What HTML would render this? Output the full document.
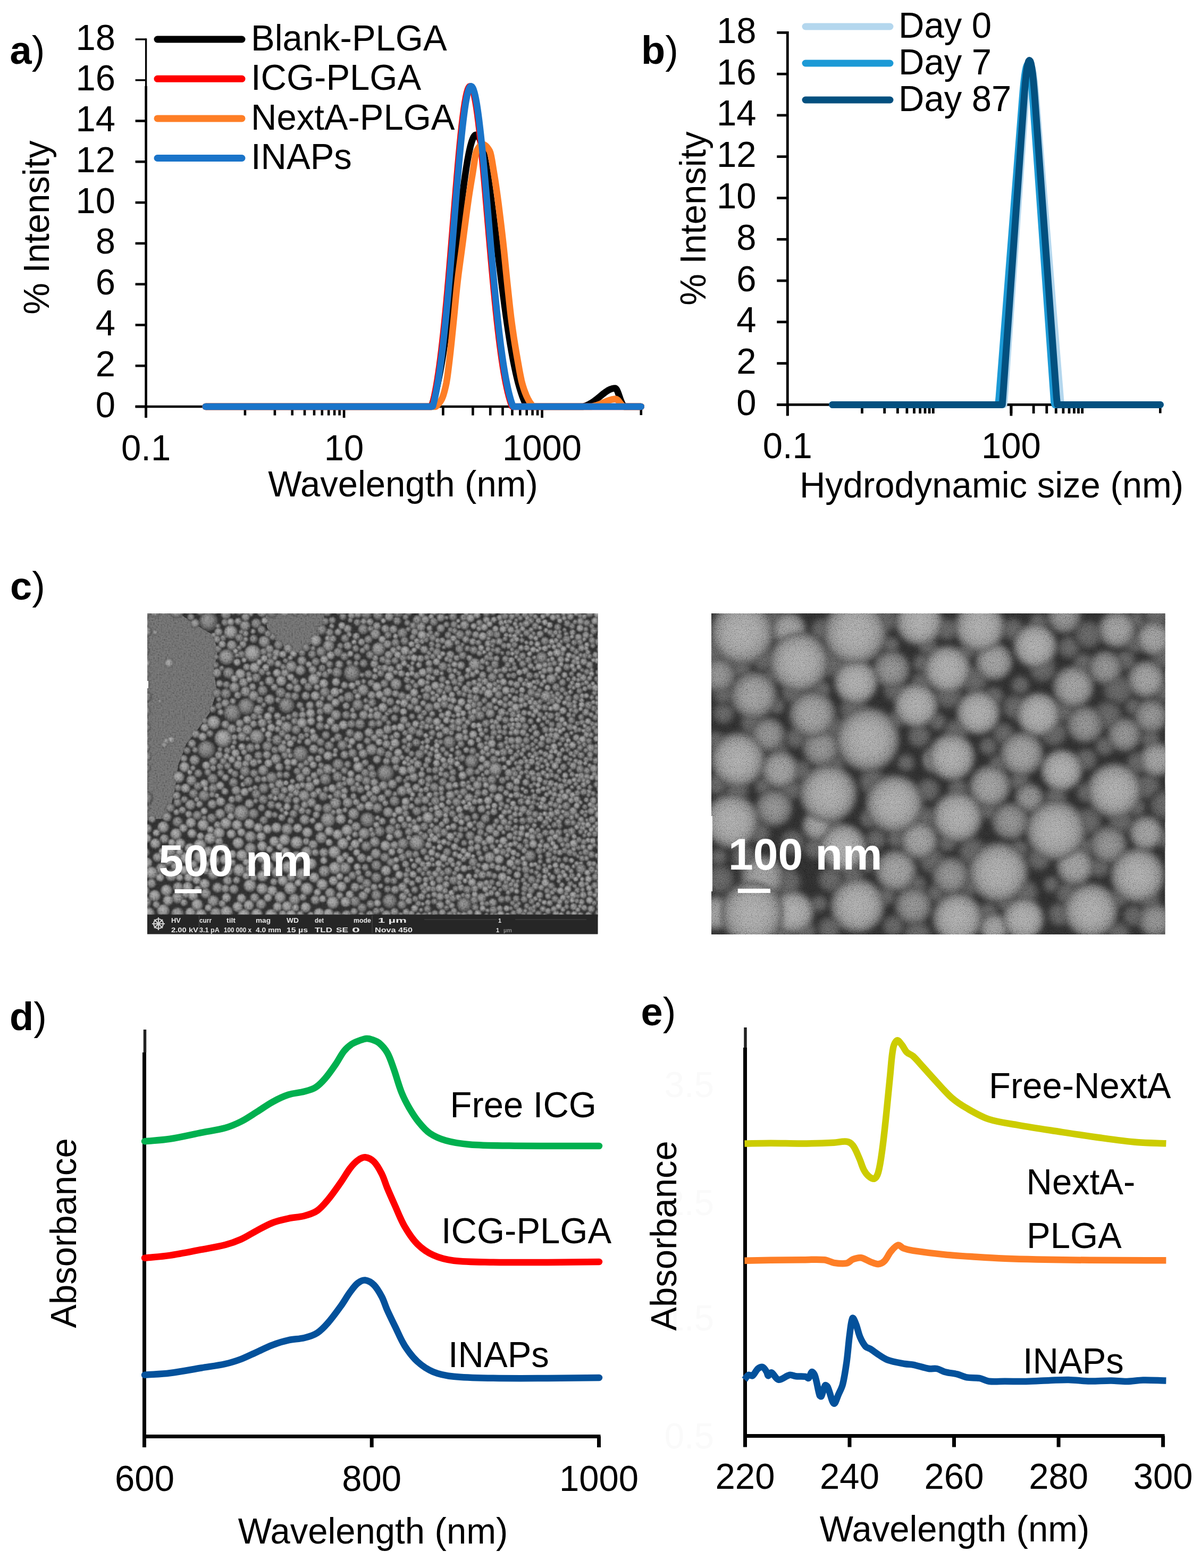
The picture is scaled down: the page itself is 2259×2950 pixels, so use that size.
<!DOCTYPE html>
<html><head><meta charset="utf-8"><title>Figure</title>
<style>html,body{margin:0;padding:0;background:#fff;overflow:hidden;}svg{display:block;}</style></head>
<body>
<svg width="2259" height="2950" viewBox="0 0 2259 2950" font-family="'Liberation Sans', Arial, sans-serif">
<rect width="2259" height="2950" fill="#fff"/>
<defs>
<radialGradient id="pA" cx="0.5" cy="0.5" r="0.5" fx="0.4" fy="0.35"><stop offset="0" stop-color="#9a9a9a"/><stop offset="0.6" stop-color="#7e7e7e"/><stop offset="1" stop-color="#484848"/></radialGradient>
<radialGradient id="pB" cx="0.5" cy="0.5" r="0.5" fx="0.4" fy="0.35"><stop offset="0" stop-color="#8c8c8c"/><stop offset="0.6" stop-color="#727272"/><stop offset="1" stop-color="#424242"/></radialGradient>
<radialGradient id="pC" cx="0.5" cy="0.5" r="0.5" fx="0.4" fy="0.35"><stop offset="0" stop-color="#aaaaaa"/><stop offset="0.6" stop-color="#8a8a8a"/><stop offset="1" stop-color="#4e4e4e"/></radialGradient>
<radialGradient id="spR" cx="0.5" cy="0.5" r="0.5"><stop offset="0" stop-color="#9e9e9e"/><stop offset="0.5" stop-color="#939393"/><stop offset="0.8" stop-color="#767676"/><stop offset="1" stop-color="#444"/></radialGradient><radialGradient id="spM" cx="0.5" cy="0.5" r="0.5"><stop offset="0" stop-color="#8e8e8e"/><stop offset="0.5" stop-color="#848484"/><stop offset="0.8" stop-color="#6a6a6a"/><stop offset="1" stop-color="#404040"/></radialGradient><radialGradient id="spB" cx="0.5" cy="0.5" r="0.5"><stop offset="0" stop-color="#5c5c5c"/><stop offset="0.6" stop-color="#525252"/><stop offset="1" stop-color="#2a2a2a"/></radialGradient><radialGradient id="spD" cx="0.5" cy="0.5" r="0.5"><stop offset="0" stop-color="#808080"/><stop offset="0.5" stop-color="#767676"/><stop offset="0.8" stop-color="#606060"/><stop offset="1" stop-color="#3a3a3a"/></radialGradient>
<filter id="soft" x="-10%" y="-10%" width="120%" height="120%"><feGaussianBlur stdDeviation="5"/></filter>
<filter id="soft1" x="0" y="0" width="100%" height="100%"><feGaussianBlur stdDeviation="0.8"/></filter>
<filter id="grain" x="0" y="0" width="100%" height="100%"><feTurbulence type="fractalNoise" baseFrequency="0.35" numOctaves="1" seed="3"/><feColorMatrix type="matrix" values="2 0 0 0 -0.5  2 0 0 0 -0.5  2 0 0 0 -0.5  0 0 0 0 1"/></filter>
<filter id="grain2" x="0" y="0" width="100%" height="100%"><feTurbulence type="fractalNoise" baseFrequency="0.9" numOctaves="2" seed="5"/><feColorMatrix type="matrix" values="2 0 0 0 -0.5  2 0 0 0 -0.5  2 0 0 0 -0.5  0 0 0 0 1"/></filter>
</defs>
<line x1="274.6" y1="72.3" x2="274.6" y2="162.0" stroke="#000" stroke-width="3.4" stroke-linecap="butt"/>
<line x1="274.6" y1="162.0" x2="274.6" y2="785.0" stroke="#000" stroke-width="4.6" stroke-linecap="butt"/>
<line x1="254.6" y1="765.0" x2="274.6" y2="765.0" stroke="#000" stroke-width="4.6" stroke-linecap="butt"/>
<text transform="translate(217.0,784.5) scale(1,1.028)" font-size="67" text-anchor="end">0</text>
<line x1="254.6" y1="688.2" x2="274.6" y2="688.2" stroke="#000" stroke-width="4.6" stroke-linecap="butt"/>
<text transform="translate(217.0,707.7) scale(1,1.028)" font-size="67" text-anchor="end">2</text>
<line x1="254.6" y1="611.4" x2="274.6" y2="611.4" stroke="#000" stroke-width="4.6" stroke-linecap="butt"/>
<text transform="translate(217.0,630.9) scale(1,1.028)" font-size="67" text-anchor="end">4</text>
<line x1="254.6" y1="534.7" x2="274.6" y2="534.7" stroke="#000" stroke-width="4.6" stroke-linecap="butt"/>
<text transform="translate(217.0,554.2) scale(1,1.028)" font-size="67" text-anchor="end">6</text>
<line x1="254.6" y1="457.9" x2="274.6" y2="457.9" stroke="#000" stroke-width="4.6" stroke-linecap="butt"/>
<text transform="translate(217.0,477.4) scale(1,1.028)" font-size="67" text-anchor="end">8</text>
<line x1="254.6" y1="381.1" x2="274.6" y2="381.1" stroke="#000" stroke-width="4.6" stroke-linecap="butt"/>
<text transform="translate(217.0,400.6) scale(1,1.028)" font-size="67" text-anchor="end">10</text>
<line x1="254.6" y1="304.3" x2="274.6" y2="304.3" stroke="#000" stroke-width="4.6" stroke-linecap="butt"/>
<text transform="translate(217.0,323.8) scale(1,1.028)" font-size="67" text-anchor="end">12</text>
<line x1="254.6" y1="227.5" x2="274.6" y2="227.5" stroke="#000" stroke-width="4.6" stroke-linecap="butt"/>
<text transform="translate(217.0,247.0) scale(1,1.028)" font-size="67" text-anchor="end">14</text>
<line x1="254.6" y1="150.8" x2="274.6" y2="150.8" stroke="#000" stroke-width="3.4" stroke-linecap="butt"/>
<text transform="translate(217.0,170.3) scale(1,1.028)" font-size="67" text-anchor="end">16</text>
<line x1="254.6" y1="74.0" x2="274.6" y2="74.0" stroke="#000" stroke-width="3.4" stroke-linecap="butt"/>
<text transform="translate(217.0,93.5) scale(1,1.028)" font-size="67" text-anchor="end">18</text>
<line x1="254.6" y1="765.0" x2="1205.8" y2="765.0" stroke="#000" stroke-width="4.6" stroke-linecap="butt"/>
<line x1="274.6" y1="765.0" x2="274.6" y2="786.0" stroke="#000" stroke-width="4.6" stroke-linecap="butt"/>
<line x1="647.1" y1="765.0" x2="647.1" y2="786.0" stroke="#000" stroke-width="4.6" stroke-linecap="butt"/>
<line x1="1019.6" y1="765.0" x2="1019.6" y2="786.0" stroke="#000" stroke-width="4.6" stroke-linecap="butt"/>
<line x1="460.9" y1="765.0" x2="460.9" y2="781.5" stroke="#000" stroke-width="4.6" stroke-linecap="butt"/>
<line x1="516.9" y1="765.0" x2="516.9" y2="781.5" stroke="#000" stroke-width="4.6" stroke-linecap="butt"/>
<line x1="549.7" y1="765.0" x2="549.7" y2="781.5" stroke="#000" stroke-width="4.6" stroke-linecap="butt"/>
<line x1="573.0" y1="765.0" x2="573.0" y2="781.5" stroke="#000" stroke-width="4.6" stroke-linecap="butt"/>
<line x1="591.0" y1="765.0" x2="591.0" y2="781.5" stroke="#000" stroke-width="4.6" stroke-linecap="butt"/>
<line x1="605.8" y1="765.0" x2="605.8" y2="781.5" stroke="#000" stroke-width="4.6" stroke-linecap="butt"/>
<line x1="618.2" y1="765.0" x2="618.2" y2="781.5" stroke="#000" stroke-width="4.6" stroke-linecap="butt"/>
<line x1="629.1" y1="765.0" x2="629.1" y2="781.5" stroke="#000" stroke-width="4.6" stroke-linecap="butt"/>
<line x1="638.6" y1="765.0" x2="638.6" y2="781.5" stroke="#000" stroke-width="4.6" stroke-linecap="butt"/>
<line x1="833.4" y1="765.0" x2="833.4" y2="781.5" stroke="#000" stroke-width="4.6" stroke-linecap="butt"/>
<line x1="889.4" y1="765.0" x2="889.4" y2="781.5" stroke="#000" stroke-width="4.6" stroke-linecap="butt"/>
<line x1="922.2" y1="765.0" x2="922.2" y2="781.5" stroke="#000" stroke-width="4.6" stroke-linecap="butt"/>
<line x1="945.5" y1="765.0" x2="945.5" y2="781.5" stroke="#000" stroke-width="4.6" stroke-linecap="butt"/>
<line x1="963.5" y1="765.0" x2="963.5" y2="781.5" stroke="#000" stroke-width="4.6" stroke-linecap="butt"/>
<line x1="978.3" y1="765.0" x2="978.3" y2="781.5" stroke="#000" stroke-width="4.6" stroke-linecap="butt"/>
<line x1="990.7" y1="765.0" x2="990.7" y2="781.5" stroke="#000" stroke-width="4.6" stroke-linecap="butt"/>
<line x1="1001.6" y1="765.0" x2="1001.6" y2="781.5" stroke="#000" stroke-width="4.6" stroke-linecap="butt"/>
<line x1="1011.1" y1="765.0" x2="1011.1" y2="781.5" stroke="#000" stroke-width="4.6" stroke-linecap="butt"/>
<line x1="1205.8" y1="765.0" x2="1205.8" y2="781.0" stroke="#000" stroke-width="4.6" stroke-linecap="butt"/>
<text transform="translate(274.6,866.0) scale(1,1.028)" font-size="67" text-anchor="middle">0.1</text>
<text transform="translate(647.1,866.0) scale(1,1.028)" font-size="67" text-anchor="middle">10</text>
<text transform="translate(1019.6,866.0) scale(1,1.028)" font-size="67" text-anchor="middle">1000</text>
<text transform="translate(758.0,934.0) scale(1,1.028)" font-size="67" text-anchor="middle">Wavelength (nm)</text>
<text transform="translate(91.6,428) rotate(-90) scale(1,1.028)" font-size="67" text-anchor="middle">% Intensity</text>
<path d="M386.7,765.0 L811.2,765.0 L812.7,761.4 L814.2,756.8 L815.7,751.8 L817.2,746.5 L818.7,740.9 L820.2,734.9 L821.7,728.6 L823.2,721.9 L824.7,714.8 L826.2,707.3 L827.7,699.5 L829.2,691.2 L830.7,682.6 L832.2,673.6 L833.7,664.2 L835.2,654.4 L836.7,644.3 L838.2,633.8 L839.7,622.9 L841.2,611.7 L842.7,600.1 L844.2,588.2 L845.7,576.1 L847.2,563.7 L848.7,551.0 L850.2,538.2 L851.7,525.2 L853.2,512.0 L854.7,498.7 L856.2,485.3 L857.7,471.9 L859.2,458.5 L860.7,445.2 L862.2,431.9 L863.7,418.8 L865.2,405.9 L866.7,393.2 L868.2,380.7 L869.7,368.7 L871.2,356.9 L872.7,345.6 L874.2,334.8 L875.7,324.5 L877.2,314.7 L878.7,305.6 L880.2,297.1 L881.7,289.2 L883.2,282.1 L884.7,275.7 L886.2,270.1 L887.7,265.2 L889.2,261.2 L890.7,258.0 L892.2,255.7 L893.7,254.2 L895.2,253.7 L896.7,253.9 L898.2,254.9 L899.7,256.7 L901.2,259.2 L902.7,262.4 L904.2,266.4 L905.7,271.1 L907.2,276.5 L908.7,282.6 L910.2,289.2 L911.7,296.6 L913.2,304.4 L914.7,312.9 L916.2,321.9 L917.7,331.3 L919.2,341.2 L920.7,351.6 L922.2,362.3 L923.7,373.3 L925.2,384.7 L926.7,396.3 L928.2,408.1 L929.7,420.1 L931.2,432.2 L932.7,444.5 L934.2,456.8 L935.7,469.1 L937.2,481.5 L938.7,493.8 L940.2,506.0 L941.7,518.1 L943.2,530.1 L944.7,541.9 L946.2,553.6 L947.7,565.0 L949.2,576.2 L950.7,587.2 L952.2,597.9 L953.7,608.3 L955.2,618.4 L956.7,628.2 L958.2,637.7 L959.7,646.9 L961.2,655.7 L962.7,664.2 L964.2,672.4 L965.7,680.2 L967.2,687.7 L968.7,694.8 L970.2,701.6 L971.7,708.1 L973.2,714.3 L974.7,720.1 L976.2,725.6 L977.7,730.8 L979.2,735.7 L980.7,740.3 L982.2,744.7 L983.7,748.7 L985.2,752.6 L986.7,756.1 L988.2,759.5 L989.7,762.6 L991.2,765.0 L1096.2,765.0 L1097.7,764.8 L1099.2,764.3 L1100.7,763.8 L1102.2,763.2 L1103.7,762.6 L1105.2,761.9 L1106.7,761.2 L1108.2,760.4 L1109.7,759.6 L1111.2,758.8 L1112.7,757.9 L1114.2,756.9 L1115.7,755.9 L1117.2,754.9 L1118.7,753.8 L1120.2,752.6 L1121.7,751.5 L1123.2,750.3 L1124.7,749.1 L1126.2,747.9 L1127.7,746.6 L1129.2,745.4 L1130.7,744.1 L1132.2,742.9 L1133.7,741.7 L1135.2,740.5 L1136.7,739.3 L1138.2,738.2 L1139.7,737.1 L1141.2,736.1 L1142.7,735.1 L1144.2,734.2 L1145.7,733.4 L1147.2,732.7 L1148.7,732.1 L1150.2,731.6 L1151.7,731.1 L1153.2,730.8 L1154.7,730.6 L1156.2,730.5 L1157.7,730.6 L1159.2,731.9 L1160.7,734.4 L1162.2,737.9 L1163.7,742.0 L1165.2,746.3 L1166.7,750.6 L1168.2,754.6 L1169.7,758.2 L1171.2,761.1 L1172.7,763.5 L1174.2,765.0 L1205.8,765.0" fill="none" stroke="#000000" stroke-width="12.5" stroke-linecap="round" stroke-linejoin="round"/>
<path d="M386.7,765.0 L811.2,765.0 L812.7,763.4 L814.2,757.5 L815.7,751.2 L817.2,744.3 L818.7,736.8 L820.2,728.8 L821.7,720.3 L823.2,711.1 L824.7,701.3 L826.2,690.9 L827.7,679.8 L829.2,668.1 L830.7,655.8 L832.2,642.8 L833.7,629.2 L835.2,615.0 L836.7,600.2 L838.2,584.8 L839.7,568.8 L841.2,552.4 L842.7,535.4 L844.2,518.1 L845.7,500.3 L847.2,482.3 L848.7,464.0 L850.2,445.5 L851.7,427.0 L853.2,408.3 L854.7,389.8 L856.2,371.4 L857.7,353.2 L859.2,335.3 L860.7,317.8 L862.2,300.8 L863.7,284.5 L865.2,268.8 L866.7,253.9 L868.2,239.8 L869.7,226.7 L871.2,214.7 L872.7,203.7 L874.2,193.9 L875.7,185.3 L877.2,178.0 L878.7,172.1 L880.2,167.5 L881.7,164.4 L883.2,162.6 L884.7,162.3 L886.2,163.4 L887.7,165.7 L889.2,169.4 L890.7,174.3 L892.2,180.5 L893.7,187.9 L895.2,196.4 L896.7,206.1 L898.2,216.8 L899.7,228.5 L901.2,241.1 L902.7,254.6 L904.2,268.9 L905.7,283.8 L907.2,299.4 L908.7,315.5 L910.2,332.1 L911.7,349.0 L913.2,366.2 L914.7,383.7 L916.2,401.2 L917.7,418.8 L919.2,436.4 L920.7,453.9 L922.2,471.3 L923.7,488.4 L925.2,505.3 L926.7,521.8 L928.2,537.9 L929.7,553.7 L931.2,568.9 L932.7,583.7 L934.2,598.0 L935.7,611.7 L937.2,624.9 L938.7,637.4 L940.2,649.4 L941.7,660.8 L943.2,671.7 L944.7,681.9 L946.2,691.6 L947.7,700.7 L949.2,709.2 L950.7,717.2 L952.2,724.6 L953.7,731.5 L955.2,738.0 L956.7,743.9 L958.2,749.4 L959.7,754.5 L961.2,759.2 L962.7,763.5 L964.2,765.0 L1205.8,765.0" fill="none" stroke="#FF0000" stroke-width="12.5" stroke-linecap="round" stroke-linejoin="round"/>
<path d="M386.7,765.0 L818.7,765.0 L820.2,764.7 L821.7,763.0 L823.2,761.3 L824.7,759.8 L826.2,758.1 L827.7,756.2 L829.2,754.0 L830.7,751.3 L832.2,748.0 L833.7,743.8 L835.2,739.0 L836.7,733.4 L838.2,727.1 L839.7,720.1 L841.2,710.8 L842.7,699.6 L844.2,687.4 L845.7,675.0 L847.2,661.9 L848.7,647.9 L850.2,633.3 L851.7,618.5 L853.2,603.8 L854.7,588.6 L856.2,572.9 L857.7,557.3 L859.2,542.5 L860.7,529.0 L862.2,516.6 L863.7,505.0 L865.2,493.8 L866.7,482.9 L868.2,471.9 L869.7,460.7 L871.2,449.1 L872.7,437.5 L874.2,426.0 L875.7,414.6 L877.2,403.4 L878.7,392.2 L880.2,381.3 L881.7,370.9 L883.2,361.1 L884.7,351.7 L886.2,342.6 L887.7,333.6 L889.2,324.7 L890.7,314.8 L892.2,304.6 L893.7,295.1 L895.2,287.7 L896.7,283.5 L898.2,280.9 L899.7,278.5 L901.2,276.4 L902.7,274.6 L904.2,273.2 L905.7,272.3 L907.2,271.8 L908.7,271.7 L910.2,272.1 L911.7,272.9 L913.2,274.0 L914.7,275.3 L916.2,277.0 L917.7,279.0 L919.2,281.1 L920.7,283.5 L922.2,287.1 L923.7,293.2 L925.2,301.1 L926.7,310.2 L928.2,319.7 L929.7,328.7 L931.2,338.0 L932.7,347.9 L934.2,358.4 L935.7,369.2 L937.2,380.4 L938.7,392.2 L940.2,404.4 L941.7,416.8 L943.2,429.3 L944.7,441.9 L946.2,455.1 L947.7,468.9 L949.2,483.5 L950.7,498.6 L952.2,513.7 L953.7,528.3 L955.2,542.5 L956.7,556.7 L958.2,570.7 L959.7,584.2 L961.2,596.9 L962.7,608.6 L964.2,619.4 L965.7,629.7 L967.2,639.6 L968.7,649.0 L970.2,658.1 L971.7,666.9 L973.2,675.4 L974.7,683.9 L976.2,692.3 L977.7,700.5 L979.2,708.3 L980.7,715.4 L982.2,721.5 L983.7,726.6 L985.2,731.3 L986.7,735.7 L988.2,739.7 L989.7,743.4 L991.2,746.8 L992.7,749.9 L994.2,752.7 L995.7,755.3 L997.2,757.6 L998.7,759.7 L1000.2,761.8 L1001.7,763.9 L1003.2,765.0 L1111.2,765.0 L1112.7,764.9 L1114.2,764.6 L1115.7,764.3 L1117.2,763.9 L1118.7,763.5 L1120.2,763.1 L1121.7,762.7 L1123.2,762.2 L1124.7,761.7 L1126.2,761.2 L1127.7,760.6 L1129.2,760.0 L1130.7,759.4 L1132.2,758.7 L1133.7,758.1 L1135.2,757.4 L1136.7,756.8 L1138.2,756.1 L1139.7,755.5 L1141.2,754.8 L1142.7,754.2 L1144.2,753.6 L1145.7,753.1 L1147.2,752.6 L1148.7,752.2 L1150.2,751.8 L1151.7,751.4 L1153.2,751.2 L1154.7,751.0 L1156.2,750.8 L1157.7,750.8 L1159.2,751.0 L1160.7,751.8 L1162.2,753.0 L1163.7,754.7 L1165.2,756.6 L1166.7,758.5 L1168.2,760.4 L1169.7,762.1 L1171.2,763.6 L1172.7,764.8 L1174.2,765.0 L1205.8,765.0" fill="none" stroke="#FE7E26" stroke-width="12.5" stroke-linecap="round" stroke-linejoin="round"/>
<path d="M386.7,765.0 L812.7,765.0 L814.2,764.1 L815.7,758.3 L817.2,752.0 L818.7,745.2 L820.2,737.9 L821.7,729.9 L823.2,721.4 L824.7,712.3 L826.2,702.6 L827.7,692.3 L829.2,681.3 L830.7,669.7 L832.2,657.5 L833.7,644.6 L835.2,631.1 L836.7,616.9 L838.2,602.2 L839.7,586.8 L841.2,571.0 L842.7,554.6 L844.2,537.7 L845.7,520.4 L847.2,502.7 L848.7,484.7 L850.2,466.5 L851.7,448.0 L853.2,429.4 L854.7,410.8 L856.2,392.3 L857.7,373.8 L859.2,355.6 L860.7,337.6 L862.2,320.1 L863.7,303.1 L865.2,286.6 L866.7,270.8 L868.2,255.8 L869.7,241.6 L871.2,228.4 L872.7,216.2 L874.2,205.1 L875.7,195.1 L877.2,186.4 L878.7,178.9 L880.2,172.8 L881.7,168.1 L883.2,164.7 L884.7,162.8 L886.2,162.3 L887.7,163.2 L889.2,165.3 L890.7,168.8 L892.2,173.6 L893.7,179.6 L895.2,186.8 L896.7,195.2 L898.2,204.7 L899.7,215.3 L901.2,226.9 L902.7,239.4 L904.2,252.8 L905.7,266.9 L907.2,281.8 L908.7,297.3 L910.2,313.3 L911.7,329.8 L913.2,346.7 L914.7,363.9 L916.2,381.3 L917.7,398.9 L919.2,416.5 L920.7,434.1 L922.2,451.6 L923.7,469.0 L925.2,486.2 L926.7,503.0 L928.2,519.6 L929.7,535.8 L931.2,551.6 L932.7,566.9 L934.2,581.8 L935.7,596.1 L937.2,609.9 L938.7,623.1 L940.2,635.8 L941.7,647.9 L943.2,659.4 L944.7,670.3 L946.2,680.6 L947.7,690.3 L949.2,699.5 L950.7,708.1 L952.2,716.1 L953.7,723.6 L955.2,730.6 L956.7,737.1 L958.2,743.2 L959.7,748.7 L961.2,753.9 L962.7,758.6 L964.2,762.9 L965.7,765.0 L1205.8,765.0" fill="none" stroke="#1A74C9" stroke-width="12.5" stroke-linecap="round" stroke-linejoin="round"/>
<line x1="296.0" y1="74.0" x2="455.0" y2="74.0" stroke="#000000" stroke-width="13.0" stroke-linecap="round"/>
<text transform="translate(472.0,94.6) scale(1,1.028)" font-size="67" text-anchor="start">Blank-PLGA</text>
<line x1="296.0" y1="148.3" x2="455.0" y2="148.3" stroke="#FF0000" stroke-width="13.0" stroke-linecap="round"/>
<text transform="translate(472.0,168.9) scale(1,1.028)" font-size="67" text-anchor="start">ICG-PLGA</text>
<line x1="296.0" y1="222.9" x2="455.0" y2="222.9" stroke="#FE7E26" stroke-width="13.0" stroke-linecap="round"/>
<text transform="translate(472.0,243.5) scale(1,1.028)" font-size="67" text-anchor="start">NextA-PLGA</text>
<line x1="296.0" y1="297.5" x2="455.0" y2="297.5" stroke="#1A74C9" stroke-width="13.0" stroke-linecap="round"/>
<text transform="translate(472.0,318.1) scale(1,1.028)" font-size="67" text-anchor="start">INAPs</text>
<text x="18.5" y="119.6" font-size="74"><tspan font-weight="bold">a</tspan>)</text>
<line x1="1481.3" y1="59.0" x2="1481.3" y2="150.0" stroke="#000" stroke-width="4.8" stroke-linecap="butt"/>
<line x1="1481.3" y1="150.0" x2="1481.3" y2="781.4" stroke="#000" stroke-width="4.8" stroke-linecap="butt"/>
<line x1="1461.3" y1="761.4" x2="1481.3" y2="761.4" stroke="#000" stroke-width="4.8" stroke-linecap="butt"/>
<text transform="translate(1422.6,780.9) scale(1,1.028)" font-size="67" text-anchor="end">0</text>
<line x1="1461.3" y1="683.6" x2="1481.3" y2="683.6" stroke="#000" stroke-width="4.8" stroke-linecap="butt"/>
<text transform="translate(1422.6,703.1) scale(1,1.028)" font-size="67" text-anchor="end">2</text>
<line x1="1461.3" y1="605.8" x2="1481.3" y2="605.8" stroke="#000" stroke-width="4.8" stroke-linecap="butt"/>
<text transform="translate(1422.6,625.3) scale(1,1.028)" font-size="67" text-anchor="end">4</text>
<line x1="1461.3" y1="528.1" x2="1481.3" y2="528.1" stroke="#000" stroke-width="4.8" stroke-linecap="butt"/>
<text transform="translate(1422.6,547.6) scale(1,1.028)" font-size="67" text-anchor="end">6</text>
<line x1="1461.3" y1="450.3" x2="1481.3" y2="450.3" stroke="#000" stroke-width="4.8" stroke-linecap="butt"/>
<text transform="translate(1422.6,469.8) scale(1,1.028)" font-size="67" text-anchor="end">8</text>
<line x1="1461.3" y1="372.5" x2="1481.3" y2="372.5" stroke="#000" stroke-width="4.8" stroke-linecap="butt"/>
<text transform="translate(1422.6,392.0) scale(1,1.028)" font-size="67" text-anchor="end">10</text>
<line x1="1461.3" y1="294.7" x2="1481.3" y2="294.7" stroke="#000" stroke-width="4.8" stroke-linecap="butt"/>
<text transform="translate(1422.6,314.2) scale(1,1.028)" font-size="67" text-anchor="end">12</text>
<line x1="1461.3" y1="216.9" x2="1481.3" y2="216.9" stroke="#000" stroke-width="4.8" stroke-linecap="butt"/>
<text transform="translate(1422.6,236.4) scale(1,1.028)" font-size="67" text-anchor="end">14</text>
<line x1="1461.3" y1="139.2" x2="1481.3" y2="139.2" stroke="#000" stroke-width="4.8" stroke-linecap="butt"/>
<text transform="translate(1422.6,158.7) scale(1,1.028)" font-size="67" text-anchor="end">16</text>
<line x1="1461.3" y1="61.4" x2="1481.3" y2="61.4" stroke="#000" stroke-width="4.8" stroke-linecap="butt"/>
<text transform="translate(1422.6,80.9) scale(1,1.028)" font-size="67" text-anchor="end">18</text>
<line x1="1461.3" y1="761.4" x2="2182.3" y2="761.4" stroke="#000" stroke-width="4.8" stroke-linecap="butt"/>
<line x1="1481.3" y1="761.4" x2="1481.3" y2="782.4" stroke="#000" stroke-width="4.8" stroke-linecap="butt"/>
<line x1="1901.9" y1="761.4" x2="1901.9" y2="782.4" stroke="#000" stroke-width="4.8" stroke-linecap="butt"/>
<line x1="1621.5" y1="761.4" x2="1621.5" y2="777.9" stroke="#000" stroke-width="4.8" stroke-linecap="butt"/>
<line x1="1663.7" y1="761.4" x2="1663.7" y2="777.9" stroke="#000" stroke-width="4.8" stroke-linecap="butt"/>
<line x1="1688.4" y1="761.4" x2="1688.4" y2="777.9" stroke="#000" stroke-width="4.8" stroke-linecap="butt"/>
<line x1="1705.9" y1="761.4" x2="1705.9" y2="777.9" stroke="#000" stroke-width="4.8" stroke-linecap="butt"/>
<line x1="1719.5" y1="761.4" x2="1719.5" y2="777.9" stroke="#000" stroke-width="4.8" stroke-linecap="butt"/>
<line x1="1730.6" y1="761.4" x2="1730.6" y2="777.9" stroke="#000" stroke-width="4.8" stroke-linecap="butt"/>
<line x1="1740.0" y1="761.4" x2="1740.0" y2="777.9" stroke="#000" stroke-width="4.8" stroke-linecap="butt"/>
<line x1="1748.1" y1="761.4" x2="1748.1" y2="777.9" stroke="#000" stroke-width="4.8" stroke-linecap="butt"/>
<line x1="1755.3" y1="761.4" x2="1755.3" y2="777.9" stroke="#000" stroke-width="4.8" stroke-linecap="butt"/>
<line x1="1901.9" y1="761.4" x2="1901.9" y2="777.9" stroke="#000" stroke-width="4.8" stroke-linecap="butt"/>
<line x1="1944.1" y1="761.4" x2="1944.1" y2="777.9" stroke="#000" stroke-width="4.8" stroke-linecap="butt"/>
<line x1="1968.8" y1="761.4" x2="1968.8" y2="777.9" stroke="#000" stroke-width="4.8" stroke-linecap="butt"/>
<line x1="1986.3" y1="761.4" x2="1986.3" y2="777.9" stroke="#000" stroke-width="4.8" stroke-linecap="butt"/>
<line x1="1999.9" y1="761.4" x2="1999.9" y2="777.9" stroke="#000" stroke-width="4.8" stroke-linecap="butt"/>
<line x1="2011.0" y1="761.4" x2="2011.0" y2="777.9" stroke="#000" stroke-width="4.8" stroke-linecap="butt"/>
<line x1="2020.4" y1="761.4" x2="2020.4" y2="777.9" stroke="#000" stroke-width="4.8" stroke-linecap="butt"/>
<line x1="2028.5" y1="761.4" x2="2028.5" y2="777.9" stroke="#000" stroke-width="4.8" stroke-linecap="butt"/>
<line x1="2035.7" y1="761.4" x2="2035.7" y2="777.9" stroke="#000" stroke-width="4.8" stroke-linecap="butt"/>
<line x1="2182.3" y1="761.4" x2="2182.3" y2="777.4" stroke="#000" stroke-width="4.6" stroke-linecap="butt"/>
<text transform="translate(1481.3,862.0) scale(1,1.028)" font-size="67" text-anchor="middle">0.1</text>
<text transform="translate(1901.9,862.0) scale(1,1.028)" font-size="67" text-anchor="middle">100</text>
<text transform="translate(1865.0,936.0) scale(1,1.028)" font-size="67" text-anchor="middle">Hydrodynamic size (nm)</text>
<text transform="translate(1326.5,411) rotate(-90) scale(1,1.028)" font-size="67" text-anchor="middle">% Intensity</text>
<path d="M1565.7,761.4 L1888.2,761.4 L1889.7,744.3 L1891.2,723.0 L1892.7,701.7 L1894.2,680.5 L1895.7,659.2 L1897.2,638.0 L1898.7,616.7 L1900.2,595.4 L1901.7,574.2 L1903.2,552.9 L1904.7,531.7 L1906.2,510.4 L1907.7,489.1 L1909.2,467.9 L1910.7,446.6 L1912.2,425.4 L1913.7,404.1 L1915.2,382.8 L1916.7,361.6 L1918.2,340.3 L1919.7,319.1 L1921.2,297.8 L1922.7,276.6 L1924.2,255.3 L1925.7,234.0 L1927.2,212.8 L1928.7,191.5 L1930.2,172.3 L1931.7,156.3 L1933.2,143.4 L1934.7,133.8 L1936.2,127.3 L1937.7,124.0 L1939.2,123.9 L1940.7,126.6 L1942.2,132.0 L1943.7,140.2 L1945.2,151.2 L1946.7,164.9 L1948.2,181.4 L1949.7,199.8 L1951.2,218.2 L1952.7,236.6 L1954.2,255.0 L1955.7,273.3 L1957.2,291.7 L1958.7,310.1 L1960.2,328.5 L1961.7,346.9 L1963.2,365.3 L1964.7,383.7 L1966.2,402.1 L1967.7,420.5 L1969.2,438.9 L1970.7,457.3 L1972.2,475.7 L1973.7,494.1 L1975.2,512.5 L1976.7,530.9 L1978.2,549.3 L1979.7,567.7 L1981.2,586.1 L1982.7,604.5 L1984.2,622.9 L1985.7,641.3 L1987.2,659.7 L1988.7,678.1 L1990.2,696.5 L1991.7,714.9 L1993.2,733.3 L1994.7,751.7 L1996.2,761.4 L2182.3,761.4" fill="none" stroke="#B4D7EE" stroke-width="13.0" stroke-linecap="round" stroke-linejoin="round"/>
<path d="M1565.7,761.4 L1877.7,761.4 L1879.2,745.9 L1880.7,726.7 L1882.2,707.5 L1883.7,688.4 L1885.2,669.2 L1886.7,650.0 L1888.2,630.8 L1889.7,611.6 L1891.2,592.4 L1892.7,573.2 L1894.2,554.0 L1895.7,534.8 L1897.2,515.6 L1898.7,496.4 L1900.2,477.2 L1901.7,458.1 L1903.2,438.9 L1904.7,419.7 L1906.2,400.5 L1907.7,381.3 L1909.2,362.1 L1910.7,342.9 L1912.2,323.7 L1913.7,304.5 L1915.2,285.3 L1916.7,266.1 L1918.2,246.9 L1919.7,227.7 L1921.2,208.6 L1922.7,189.4 L1924.2,171.1 L1925.7,155.7 L1927.2,143.1 L1928.7,133.4 L1930.2,126.6 L1931.7,122.7 L1933.2,121.7 L1934.7,123.7 L1936.2,129.0 L1937.7,137.4 L1939.2,149.1 L1940.7,163.9 L1942.2,181.9 L1943.7,202.8 L1945.2,224.1 L1946.7,245.5 L1948.2,266.8 L1949.7,288.1 L1951.2,309.4 L1952.7,330.8 L1954.2,352.1 L1955.7,373.4 L1957.2,394.7 L1958.7,416.1 L1960.2,437.4 L1961.7,458.7 L1963.2,480.0 L1964.7,501.4 L1966.2,522.7 L1967.7,544.0 L1969.2,565.3 L1970.7,586.7 L1972.2,608.0 L1973.7,629.3 L1975.2,650.6 L1976.7,672.0 L1978.2,693.3 L1979.7,714.6 L1981.2,735.9 L1982.7,757.3 L1984.2,761.4 L2182.3,761.4" fill="none" stroke="#1C9AD6" stroke-width="13.0" stroke-linecap="round" stroke-linejoin="round"/>
<path d="M1565.7,761.4 L1885.2,761.4 L1886.7,741.6 L1888.2,720.4 L1889.7,699.3 L1891.2,678.2 L1892.7,657.0 L1894.2,635.9 L1895.7,614.8 L1897.2,593.7 L1898.7,572.5 L1900.2,551.4 L1901.7,530.3 L1903.2,509.2 L1904.7,488.0 L1906.2,466.9 L1907.7,445.8 L1909.2,424.6 L1910.7,403.5 L1912.2,382.4 L1913.7,361.3 L1915.2,340.1 L1916.7,319.0 L1918.2,297.9 L1919.7,276.8 L1921.2,255.6 L1922.7,234.5 L1924.2,213.4 L1925.7,192.2 L1927.2,171.7 L1928.7,154.1 L1930.2,139.6 L1931.7,128.3 L1933.2,120.2 L1934.7,115.3 L1936.2,113.5 L1937.7,114.9 L1939.2,119.3 L1940.7,126.9 L1942.2,137.6 L1943.7,151.3 L1945.2,168.2 L1946.7,188.1 L1948.2,208.7 L1949.7,229.4 L1951.2,250.1 L1952.7,270.8 L1954.2,291.4 L1955.7,312.1 L1957.2,332.8 L1958.7,353.5 L1960.2,374.2 L1961.7,394.8 L1963.2,415.5 L1964.7,436.2 L1966.2,456.9 L1967.7,477.5 L1969.2,498.2 L1970.7,518.9 L1972.2,539.6 L1973.7,560.3 L1975.2,580.9 L1976.7,601.6 L1978.2,622.3 L1979.7,643.0 L1981.2,663.6 L1982.7,684.3 L1984.2,705.0 L1985.7,725.7 L1987.2,746.4 L1988.7,761.4 L2182.3,761.4" fill="none" stroke="#03507F" stroke-width="13.0" stroke-linecap="round" stroke-linejoin="round"/>
<line x1="1515.0" y1="50.0" x2="1674.0" y2="50.0" stroke="#B4D7EE" stroke-width="13.0" stroke-linecap="round"/>
<text transform="translate(1690.0,70.5) scale(1,1.028)" font-size="67" text-anchor="start">Day 0</text>
<line x1="1515.0" y1="119.0" x2="1674.0" y2="119.0" stroke="#1C9AD6" stroke-width="13.0" stroke-linecap="round"/>
<text transform="translate(1690.0,139.5) scale(1,1.028)" font-size="67" text-anchor="start">Day 7</text>
<line x1="1515.0" y1="188.0" x2="1674.0" y2="188.0" stroke="#03507F" stroke-width="13.0" stroke-linecap="round"/>
<text transform="translate(1690.0,208.5) scale(1,1.028)" font-size="67" text-anchor="start">Day 87</text>
<text x="1206.0" y="119.6" font-size="74"><tspan font-weight="bold">b</tspan>)</text>
<text x="19.0" y="1128.2" font-size="74"><tspan font-weight="bold">c</tspan>)</text>
<svg x="277.0" y="1154.0" width="847.6" height="603.6" viewBox="277.0 1154.0 847.6 603.6" overflow="hidden">
<rect x="277.0" y="1154.0" width="847.6" height="603.6" fill="#2e2e2e"/>
<polygon points="277,1154 337,1154 363,1172 398,1193 410,1222 402,1262 408,1300 395,1340 372,1372 350,1400 335,1440 330,1480 322,1515 310,1540 277,1542" fill="#6a6a6a"/>
<polygon points="499,1154 609,1154 611,1176 594,1205 560,1228 522,1210 502,1180" fill="#6a6a6a"/>
<g filter="url(#soft1)">
<g fill="url(#pA)">
<circle cx="659" cy="1470" r="9"/><circle cx="832" cy="1502" r="6"/><circle cx="725" cy="1183" r="8"/><circle cx="649" cy="1633" r="11"/><circle cx="1052" cy="1419" r="6"/><circle cx="610" cy="1639" r="11"/><circle cx="590" cy="1409" r="9"/><circle cx="906" cy="1689" r="9"/><circle cx="1028" cy="1495" r="5"/><circle cx="876" cy="1296" r="8"/><circle cx="523" cy="1249" r="7"/><circle cx="654" cy="1183" r="8"/><circle cx="1112" cy="1526" r="7"/><circle cx="685" cy="1568" r="11"/><circle cx="573" cy="1542" r="10"/><circle cx="915" cy="1166" r="7"/><circle cx="798" cy="1677" r="6"/><circle cx="530" cy="1538" r="7"/><circle cx="1048" cy="1528" r="7"/><circle cx="455" cy="1386" r="9"/><circle cx="654" cy="1510" r="10"/><circle cx="1093" cy="1542" r="6"/><circle cx="425" cy="1155" r="10"/><circle cx="718" cy="1502" r="8"/><circle cx="1112" cy="1710" r="7"/><circle cx="296" cy="1613" r="9"/><circle cx="1083" cy="1432" r="5"/><circle cx="539" cy="1368" r="11"/><circle cx="721" cy="1478" r="9"/><circle cx="714" cy="1379" r="9"/><circle cx="502" cy="1420" r="8"/><circle cx="971" cy="1666" r="6"/><circle cx="436" cy="1504" r="7"/><circle cx="940" cy="1162" r="6"/><circle cx="408" cy="1266" r="9"/><circle cx="471" cy="1574" r="11"/><circle cx="617" cy="1542" r="14"/><circle cx="705" cy="1584" r="10"/><circle cx="906" cy="1381" r="6"/><circle cx="786" cy="1438" r="8"/><circle cx="729" cy="1372" r="9"/><circle cx="1125" cy="1515" r="5"/><circle cx="784" cy="1585" r="15"/><circle cx="335" cy="1669" r="10"/><circle cx="972" cy="1495" r="7"/><circle cx="727" cy="1722" r="10"/><circle cx="756" cy="1488" r="10"/><circle cx="806" cy="1590" r="7"/><circle cx="832" cy="1717" r="7"/><circle cx="454" cy="1529" r="15"/><circle cx="960" cy="1324" r="6"/><circle cx="989" cy="1472" r="7"/><circle cx="1027" cy="1310" r="11"/><circle cx="738" cy="1475" r="9"/><circle cx="961" cy="1185" r="7"/><circle cx="904" cy="1665" r="8"/><circle cx="848" cy="1432" r="8"/><circle cx="1034" cy="1699" r="6"/><circle cx="458" cy="1284" r="9"/><circle cx="464" cy="1255" r="7"/><circle cx="683" cy="1298" r="11"/><circle cx="565" cy="1463" r="9"/><circle cx="461" cy="1177" r="10"/><circle cx="791" cy="1239" r="7"/><circle cx="683" cy="1418" r="9"/><circle cx="1007" cy="1323" r="6"/><circle cx="554" cy="1692" r="11"/><circle cx="853" cy="1555" r="7"/><circle cx="989" cy="1489" r="5"/><circle cx="949" cy="1528" r="6"/><circle cx="988" cy="1262" r="7"/><circle cx="763" cy="1626" r="7"/><circle cx="599" cy="1489" r="7"/><circle cx="847" cy="1232" r="8"/><circle cx="674" cy="1385" r="10"/><circle cx="757" cy="1669" r="9"/><circle cx="780" cy="1189" r="7"/><circle cx="1046" cy="1205" r="5"/><circle cx="971" cy="1377" r="7"/><circle cx="1110" cy="1420" r="6"/><circle cx="1125" cy="1265" r="5"/><circle cx="516" cy="1293" r="7"/><circle cx="426" cy="1236" r="15"/><circle cx="745" cy="1287" r="11"/><circle cx="829" cy="1182" r="8"/><circle cx="1013" cy="1488" r="6"/><circle cx="932" cy="1447" r="13"/><circle cx="522" cy="1347" r="7"/><circle cx="843" cy="1697" r="6"/><circle cx="1036" cy="1474" r="7"/><circle cx="582" cy="1480" r="10"/><circle cx="1102" cy="1340" r="7"/><circle cx="540" cy="1560" r="11"/><circle cx="805" cy="1430" r="7"/><circle cx="475" cy="1292" r="7"/><circle cx="712" cy="1221" r="13"/><circle cx="707" cy="1606" r="10"/><circle cx="595" cy="1533" r="7"/><circle cx="1079" cy="1706" r="7"/><circle cx="631" cy="1511" r="11"/><circle cx="467" cy="1426" r="8"/><circle cx="893" cy="1250" r="12"/><circle cx="575" cy="1309" r="8"/><circle cx="908" cy="1270" r="7"/><circle cx="617" cy="1333" r="11"/><circle cx="918" cy="1211" r="7"/><circle cx="1097" cy="1275" r="7"/><circle cx="548" cy="1254" r="11"/><circle cx="399" cy="1513" r="9"/><circle cx="631" cy="1370" r="9"/><circle cx="828" cy="1687" r="8"/><circle cx="568" cy="1645" r="12"/><circle cx="1045" cy="1190" r="5"/><circle cx="867" cy="1252" r="8"/><circle cx="768" cy="1312" r="7"/><circle cx="604" cy="1576" r="11"/><circle cx="632" cy="1345" r="10"/><circle cx="778" cy="1462" r="9"/><circle cx="847" cy="1496" r="9"/><circle cx="873" cy="1722" r="7"/><circle cx="451" cy="1361" r="8"/><circle cx="898" cy="1594" r="7"/><circle cx="729" cy="1212" r="8"/><circle cx="483" cy="1386" r="14"/><circle cx="1012" cy="1702" r="5"/><circle cx="883" cy="1238" r="6"/><circle cx="493" cy="1360" r="9"/><circle cx="579" cy="1396" r="7"/><circle cx="1009" cy="1380" r="7"/><circle cx="854" cy="1714" r="6"/><circle cx="991" cy="1219" r="6"/><circle cx="863" cy="1371" r="6"/><circle cx="908" cy="1244" r="6"/><circle cx="568" cy="1243" r="9"/><circle cx="871" cy="1475" r="7"/><circle cx="401" cy="1695" r="11"/><circle cx="963" cy="1205" r="5"/><circle cx="927" cy="1483" r="9"/><circle cx="863" cy="1358" r="8"/><circle cx="521" cy="1641" r="11"/><circle cx="730" cy="1528" r="10"/><circle cx="571" cy="1282" r="7"/><circle cx="1078" cy="1526" r="8"/><circle cx="1114" cy="1542" r="7"/><circle cx="876" cy="1388" r="6"/><circle cx="1073" cy="1160" r="7"/><circle cx="921" cy="1613" r="11"/><circle cx="944" cy="1340" r="8"/><circle cx="495" cy="1449" r="10"/><circle cx="1070" cy="1345" r="5"/><circle cx="1077" cy="1190" r="6"/><circle cx="924" cy="1680" r="6"/><circle cx="1074" cy="1639" r="5"/><circle cx="892" cy="1284" r="6"/><circle cx="565" cy="1261" r="10"/><circle cx="710" cy="1346" r="9"/><circle cx="844" cy="1211" r="9"/><circle cx="1116" cy="1506" r="7"/><circle cx="867" cy="1445" r="6"/><circle cx="1097" cy="1593" r="6"/><circle cx="576" cy="1451" r="9"/><circle cx="1094" cy="1219" r="7"/><circle cx="724" cy="1257" r="7"/><circle cx="877" cy="1411" r="6"/><circle cx="1042" cy="1710" r="6"/><circle cx="1112" cy="1345" r="5"/><circle cx="440" cy="1673" r="9"/><circle cx="863" cy="1625" r="6"/><circle cx="505" cy="1532" r="8"/><circle cx="1037" cy="1277" r="10"/><circle cx="1058" cy="1629" r="6"/><circle cx="1104" cy="1461" r="6"/><circle cx="1011" cy="1445" r="5"/><circle cx="850" cy="1273" r="7"/><circle cx="560" cy="1480" r="7"/><circle cx="358" cy="1514" r="10"/><circle cx="412" cy="1421" r="8"/><circle cx="477" cy="1309" r="10"/><circle cx="1013" cy="1168" r="6"/><circle cx="907" cy="1646" r="8"/><circle cx="1094" cy="1664" r="7"/><circle cx="1128" cy="1631" r="8"/><circle cx="273" cy="1337" r="11"/><circle cx="908" cy="1415" r="6"/><circle cx="898" cy="1477" r="9"/><circle cx="673" cy="1155" r="8"/><circle cx="1035" cy="1579" r="7"/><circle cx="1085" cy="1504" r="7"/><circle cx="980" cy="1434" r="6"/><circle cx="1103" cy="1382" r="6"/><circle cx="1024" cy="1351" r="5"/><circle cx="960" cy="1336" r="5"/><circle cx="406" cy="1718" r="11"/><circle cx="1109" cy="1251" r="7"/><circle cx="531" cy="1408" r="9"/><circle cx="709" cy="1178" r="8"/><circle cx="916" cy="1438" r="8"/><circle cx="1038" cy="1566" r="6"/><circle cx="593" cy="1693" r="9"/><circle cx="1031" cy="1686" r="6"/><circle cx="497" cy="1207" r="11"/><circle cx="990" cy="1173" r="7"/><circle cx="960" cy="1414" r="6"/><circle cx="819" cy="1644" r="7"/><circle cx="273" cy="1604" r="9"/><circle cx="1032" cy="1619" r="6"/><circle cx="933" cy="1359" r="6"/><circle cx="805" cy="1698" r="6"/><circle cx="981" cy="1454" r="5"/><circle cx="609" cy="1604" r="9"/><circle cx="867" cy="1277" r="7"/><circle cx="823" cy="1609" r="6"/><circle cx="1074" cy="1506" r="6"/><circle cx="742" cy="1590" r="8"/><circle cx="696" cy="1721" r="8"/><circle cx="786" cy="1334" r="8"/><circle cx="961" cy="1285" r="6"/><circle cx="559" cy="1295" r="8"/><circle cx="858" cy="1296" r="6"/><circle cx="477" cy="1362" r="7"/><circle cx="1064" cy="1426" r="6"/><circle cx="1125" cy="1340" r="6"/><circle cx="694" cy="1378" r="9"/><circle cx="471" cy="1596" r="11"/><circle cx="424" cy="1323" r="8"/><circle cx="408" cy="1203" r="7"/><circle cx="361" cy="1399" r="8"/><circle cx="831" cy="1346" r="6"/><circle cx="749" cy="1569" r="9"/><circle cx="984" cy="1523" r="8"/><circle cx="825" cy="1531" r="9"/><circle cx="786" cy="1216" r="6"/><circle cx="1092" cy="1169" r="7"/><circle cx="906" cy="1522" r="8"/><circle cx="957" cy="1454" r="8"/><circle cx="1102" cy="1195" r="7"/><circle cx="787" cy="1619" r="7"/><circle cx="939" cy="1351" r="7"/><circle cx="775" cy="1662" r="6"/><circle cx="541" cy="1387" r="7"/><circle cx="972" cy="1288" r="7"/><circle cx="615" cy="1150" r="10"/><circle cx="577" cy="1603" r="11"/><circle cx="941" cy="1558" r="7"/><circle cx="1108" cy="1570" r="5"/><circle cx="1028" cy="1592" r="7"/><circle cx="469" cy="1512" r="9"/><circle cx="507" cy="1316" r="10"/><circle cx="828" cy="1703" r="8"/><circle cx="1052" cy="1214" r="6"/><circle cx="409" cy="1670" r="10"/><circle cx="743" cy="1674" r="8"/><circle cx="471" cy="1635" r="10"/><circle cx="959" cy="1169" r="5"/><circle cx="929" cy="1527" r="7"/><circle cx="616" cy="1447" r="10"/><circle cx="491" cy="1701" r="10"/><circle cx="1035" cy="1424" r="7"/><circle cx="1027" cy="1186" r="5"/><circle cx="793" cy="1457" r="7"/><circle cx="981" cy="1419" r="5"/><circle cx="766" cy="1478" r="7"/><circle cx="665" cy="1531" r="11"/><circle cx="787" cy="1655" r="7"/><circle cx="424" cy="1463" r="7"/><circle cx="1087" cy="1712" r="5"/><circle cx="983" cy="1354" r="7"/><circle cx="831" cy="1367" r="6"/><circle cx="987" cy="1156" r="6"/><circle cx="1125" cy="1561" r="7"/><circle cx="1055" cy="1241" r="7"/><circle cx="998" cy="1253" r="6"/><circle cx="618" cy="1215" r="11"/><circle cx="719" cy="1545" r="7"/><circle cx="1030" cy="1439" r="5"/><circle cx="732" cy="1160" r="9"/><circle cx="740" cy="1224" r="7"/><circle cx="507" cy="1281" r="9"/><circle cx="808" cy="1182" r="6"/><circle cx="1109" cy="1625" r="6"/><circle cx="648" cy="1488" r="7"/><circle cx="292" cy="1153" r="9"/><circle cx="519" cy="1428" r="10"/><circle cx="1053" cy="1650" r="6"/><circle cx="1103" cy="1505" r="5"/><circle cx="1015" cy="1684" r="7"/><circle cx="829" cy="1162" r="8"/><circle cx="334" cy="1689" r="11"/><circle cx="969" cy="1174" r="5"/><circle cx="706" cy="1193" r="10"/><circle cx="1071" cy="1471" r="6"/><circle cx="1084" cy="1388" r="7"/><circle cx="1057" cy="1665" r="5"/><circle cx="984" cy="1378" r="7"/><circle cx="314" cy="1537" r="9"/><circle cx="1117" cy="1446" r="8"/><circle cx="447" cy="1308" r="7"/><circle cx="574" cy="1152" r="8"/><circle cx="742" cy="1716" r="8"/><circle cx="1025" cy="1251" r="6"/><circle cx="815" cy="1315" r="6"/><circle cx="999" cy="1198" r="6"/><circle cx="889" cy="1207" r="7"/><circle cx="401" cy="1644" r="11"/><circle cx="954" cy="1609" r="5"/><circle cx="1124" cy="1676" r="6"/><circle cx="1069" cy="1489" r="6"/><circle cx="372" cy="1640" r="10"/><circle cx="360" cy="1468" r="10"/><circle cx="760" cy="1355" r="8"/><circle cx="678" cy="1518" r="8"/><circle cx="654" cy="1215" r="8"/><circle cx="652" cy="1722" r="10"/><circle cx="922" cy="1342" r="9"/><circle cx="286" cy="1541" r="7"/><circle cx="572" cy="1497" r="11"/><circle cx="975" cy="1365" r="7"/><circle cx="731" cy="1232" r="8"/><circle cx="962" cy="1393" r="7"/><circle cx="486" cy="1336" r="10"/><circle cx="845" cy="1479" r="8"/><circle cx="1088" cy="1199" r="7"/><circle cx="774" cy="1517" r="6"/><circle cx="837" cy="1676" r="6"/><circle cx="1019" cy="1288" r="5"/><circle cx="856" cy="1607" r="6"/><circle cx="558" cy="1612" r="11"/><circle cx="1022" cy="1454" r="6"/><circle cx="524" cy="1516" r="7"/><circle cx="334" cy="1719" r="12"/><circle cx="275" cy="1423" r="10"/><circle cx="695" cy="1494" r="7"/><circle cx="882" cy="1501" r="9"/><circle cx="448" cy="1169" r="7"/><circle cx="1123" cy="1610" r="5"/><circle cx="957" cy="1599" r="6"/><circle cx="1039" cy="1679" r="5"/><circle cx="1035" cy="1491" r="5"/><circle cx="638" cy="1250" r="8"/><circle cx="670" cy="1197" r="7"/><circle cx="1103" cy="1284" r="5"/><circle cx="666" cy="1715" r="7"/><circle cx="332" cy="1150" r="14"/><circle cx="793" cy="1471" r="7"/><circle cx="1076" cy="1457" r="5"/><circle cx="937" cy="1633" r="7"/><circle cx="783" cy="1482" r="8"/><circle cx="864" cy="1387" r="9"/><circle cx="1096" cy="1558" r="6"/><circle cx="1055" cy="1480" r="7"/><circle cx="862" cy="1688" r="6"/><circle cx="977" cy="1714" r="7"/><circle cx="1018" cy="1670" r="6"/><circle cx="916" cy="1453" r="6"/><circle cx="939" cy="1207" r="7"/><circle cx="1026" cy="1638" r="7"/><circle cx="428" cy="1657" r="9"/><circle cx="368" cy="1381" r="8"/><circle cx="922" cy="1560" r="9"/><circle cx="591" cy="1388" r="9"/><circle cx="803" cy="1614" r="6"/><circle cx="436" cy="1371" r="9"/><circle cx="651" cy="1328" r="7"/><circle cx="796" cy="1323" r="6"/><circle cx="366" cy="1430" r="10"/><circle cx="321" cy="1601" r="11"/><circle cx="876" cy="1203" r="7"/><circle cx="1039" cy="1651" r="6"/><circle cx="621" cy="1680" r="10"/><circle cx="889" cy="1269" r="6"/><circle cx="933" cy="1263" r="6"/><circle cx="860" cy="1635" r="6"/><circle cx="779" cy="1629" r="6"/><circle cx="1052" cy="1506" r="7"/><circle cx="830" cy="1447" r="6"/><circle cx="709" cy="1429" r="8"/><circle cx="1129" cy="1497" r="8"/><circle cx="1098" cy="1245" r="7"/><circle cx="735" cy="1259" r="7"/><circle cx="1014" cy="1151" r="5"/><circle cx="839" cy="1544" r="7"/><circle cx="274" cy="1388" r="8"/><circle cx="729" cy="1302" r="9"/><circle cx="557" cy="1506" r="7"/><circle cx="568" cy="1525" r="7"/><circle cx="1024" cy="1262" r="6"/><circle cx="1074" cy="1418" r="5"/><circle cx="436" cy="1214" r="10"/><circle cx="934" cy="1239" r="6"/><circle cx="274" cy="1697" r="11"/><circle cx="423" cy="1489" r="7"/><circle cx="844" cy="1509" r="6"/><circle cx="684" cy="1345" r="9"/><circle cx="927" cy="1698" r="8"/><circle cx="1003" cy="1346" r="5"/><circle cx="683" cy="1685" r="9"/><circle cx="542" cy="1220" r="9"/><circle cx="1106" cy="1227" r="5"/><circle cx="1110" cy="1681" r="6"/><circle cx="988" cy="1326" r="5"/><circle cx="1026" cy="1419" r="6"/><circle cx="1046" cy="1385" r="8"/><circle cx="949" cy="1260" r="7"/><circle cx="895" cy="1194" r="7"/><circle cx="977" cy="1462" r="5"/><circle cx="801" cy="1149" r="7"/><circle cx="1073" cy="1302" r="5"/><circle cx="801" cy="1655" r="6"/><circle cx="1080" cy="1260" r="5"/><circle cx="583" cy="1327" r="8"/><circle cx="992" cy="1442" r="6"/><circle cx="634" cy="1723" r="9"/><circle cx="795" cy="1626" r="6"/><circle cx="413" cy="1286" r="7"/><circle cx="1078" cy="1441" r="7"/><circle cx="588" cy="1260" r="8"/><circle cx="1059" cy="1711" r="5"/><circle cx="979" cy="1279" r="6"/><circle cx="774" cy="1258" r="6"/><circle cx="971" cy="1521" r="6"/><circle cx="444" cy="1487" r="9"/><circle cx="1001" cy="1331" r="6"/><circle cx="959" cy="1479" r="8"/><circle cx="927" cy="1368" r="6"/><circle cx="507" cy="1221" r="8"/><circle cx="948" cy="1546" r="7"/><circle cx="285" cy="1662" r="9"/><circle cx="1037" cy="1373" r="6"/><circle cx="1006" cy="1294" r="5"/><circle cx="805" cy="1296" r="8"/><circle cx="1043" cy="1495" r="6"/><circle cx="755" cy="1267" r="7"/><circle cx="767" cy="1428" r="6"/><circle cx="1075" cy="1538" r="5"/><circle cx="927" cy="1151" r="7"/><circle cx="411" cy="1189" r="8"/><circle cx="685" cy="1502" r="7"/><circle cx="680" cy="1208" r="7"/><circle cx="1046" cy="1314" r="5"/><circle cx="648" cy="1289" r="7"/><circle cx="1100" cy="1296" r="5"/><circle cx="1080" cy="1277" r="5"/><circle cx="680" cy="1614" r="9"/><circle cx="839" cy="1375" r="8"/><circle cx="1007" cy="1667" r="7"/><circle cx="963" cy="1160" r="6"/><circle cx="996" cy="1342" r="5"/><circle cx="1005" cy="1553" r="5"/><circle cx="1099" cy="1708" r="6"/><circle cx="1016" cy="1193" r="7"/><circle cx="520" cy="1229" r="8"/><circle cx="1036" cy="1512" r="6"/><circle cx="272" cy="1540" r="8"/><circle cx="526" cy="1475" r="9"/><circle cx="769" cy="1695" r="7"/><circle cx="1058" cy="1411" r="5"/><circle cx="448" cy="1439" r="9"/><circle cx="959" cy="1573" r="7"/><circle cx="1019" cy="1511" r="5"/><circle cx="969" cy="1532" r="6"/><circle cx="1005" cy="1368" r="6"/><circle cx="1127" cy="1173" r="5"/><circle cx="770" cy="1488" r="7"/><circle cx="277" cy="1559" r="9"/><circle cx="821" cy="1265" r="7"/><circle cx="636" cy="1189" r="7"/><circle cx="1036" cy="1383" r="5"/><circle cx="1065" cy="1402" r="5"/><circle cx="1037" cy="1532" r="7"/><circle cx="1106" cy="1471" r="5"/><circle cx="867" cy="1670" r="7"/><circle cx="1093" cy="1460" r="7"/><circle cx="848" cy="1619" r="7"/><circle cx="884" cy="1319" r="6"/><circle cx="465" cy="1373" r="10"/><circle cx="586" cy="1510" r="9"/><circle cx="800" cy="1505" r="8"/><circle cx="839" cy="1664" r="7"/><circle cx="880" cy="1359" r="6"/><circle cx="800" cy="1166" r="8"/><circle cx="441" cy="1293" r="10"/><circle cx="462" cy="1161" r="8"/><circle cx="668" cy="1669" r="9"/><circle cx="957" cy="1215" r="6"/><circle cx="1050" cy="1431" r="7"/><circle cx="599" cy="1427" r="7"/><circle cx="1051" cy="1546" r="6"/><circle cx="900" cy="1392" r="6"/><circle cx="740" cy="1184" r="8"/><circle cx="1120" cy="1232" r="6"/><circle cx="758" cy="1687" r="8"/><circle cx="274" cy="1406" r="9"/><circle cx="1094" cy="1697" r="6"/><circle cx="704" cy="1249" r="8"/><circle cx="981" cy="1317" r="7"/><circle cx="648" cy="1420" r="8"/><circle cx="1001" cy="1455" r="7"/><circle cx="1051" cy="1319" r="5"/><circle cx="872" cy="1616" r="6"/><circle cx="780" cy="1319" r="8"/><circle cx="462" cy="1301" r="10"/><circle cx="675" cy="1464" r="8"/><circle cx="893" cy="1508" r="6"/><circle cx="744" cy="1430" r="9"/><circle cx="802" cy="1485" r="6"/><circle cx="1035" cy="1260" r="7"/><circle cx="1052" cy="1451" r="5"/><circle cx="1095" cy="1528" r="5"/><circle cx="874" cy="1176" r="9"/><circle cx="1089" cy="1482" r="5"/><circle cx="272" cy="1460" r="8"/><circle cx="1129" cy="1581" r="7"/><circle cx="822" cy="1328" r="8"/><circle cx="986" cy="1287" r="5"/><circle cx="545" cy="1292" r="7"/><circle cx="1030" cy="1460" r="6"/><circle cx="1097" cy="1684" r="7"/><circle cx="950" cy="1368" r="5"/><circle cx="798" cy="1222" r="8"/><circle cx="1124" cy="1463" r="7"/><circle cx="1111" cy="1407" r="8"/><circle cx="804" cy="1394" r="6"/><circle cx="355" cy="1532" r="7"/><circle cx="975" cy="1393" r="8"/><circle cx="699" cy="1410" r="11"/><circle cx="788" cy="1251" r="6"/><circle cx="275" cy="1188" r="11"/><circle cx="882" cy="1481" r="6"/><circle cx="1046" cy="1720" r="7"/><circle cx="367" cy="1173" r="9"/><circle cx="1017" cy="1415" r="5"/><circle cx="970" cy="1544" r="5"/><circle cx="926" cy="1629" r="6"/><circle cx="1127" cy="1208" r="8"/><circle cx="1021" cy="1710" r="6"/><circle cx="999" cy="1210" r="5"/><circle cx="764" cy="1716" r="7"/><circle cx="807" cy="1248" r="7"/><circle cx="332" cy="1497" r="8"/><circle cx="806" cy="1274" r="6"/><circle cx="964" cy="1427" r="6"/><circle cx="927" cy="1413" r="6"/><circle cx="309" cy="1578" r="9"/><circle cx="977" cy="1578" r="5"/><circle cx="969" cy="1315" r="7"/><circle cx="850" cy="1704" r="6"/><circle cx="955" cy="1406" r="5"/><circle cx="789" cy="1541" r="6"/><circle cx="1053" cy="1604" r="6"/><circle cx="1091" cy="1435" r="6"/><circle cx="827" cy="1383" r="7"/><circle cx="912" cy="1282" r="7"/><circle cx="806" cy="1672" r="6"/><circle cx="536" cy="1266" r="8"/><circle cx="272" cy="1287" r="10"/><circle cx="960" cy="1151" r="6"/><circle cx="936" cy="1682" r="6"/><circle cx="414" cy="1531" r="10"/><circle cx="304" cy="1634" r="11"/><circle cx="793" cy="1687" r="7"/><circle cx="525" cy="1443" r="8"/><circle cx="1092" cy="1722" r="6"/><circle cx="375" cy="1513" r="7"/><circle cx="902" cy="1289" r="6"/><circle cx="841" cy="1687" r="6"/><circle cx="938" cy="1663" r="6"/><circle cx="665" cy="1347" r="7"/><circle cx="1062" cy="1469" r="5"/><circle cx="985" cy="1411" r="5"/><circle cx="739" cy="1545" r="7"/><circle cx="1041" cy="1151" r="6"/><circle cx="1107" cy="1722" r="7"/><circle cx="727" cy="1400" r="8"/><circle cx="677" cy="1405" r="7"/><circle cx="1085" cy="1625" r="5"/><circle cx="912" cy="1491" r="7"/><circle cx="1098" cy="1476" r="6"/><circle cx="832" cy="1205" r="6"/><circle cx="457" cy="1212" r="7"/><circle cx="1007" cy="1691" r="5"/><circle cx="886" cy="1597" r="7"/><circle cx="784" cy="1206" r="6"/><circle cx="401" cy="1432" r="8"/><circle cx="1089" cy="1270" r="5"/><circle cx="584" cy="1428" r="7"/><circle cx="787" cy="1722" r="6"/><circle cx="477" cy="1435" r="8"/><circle cx="1001" cy="1575" r="7"/><circle cx="969" cy="1587" r="6"/><circle cx="986" cy="1341" r="6"/><circle cx="1034" cy="1631" r="5"/><circle cx="346" cy="1427" r="7"/><circle cx="1014" cy="1330" r="6"/><circle cx="626" cy="1202" r="7"/><circle cx="1093" cy="1150" r="5"/><circle cx="952" cy="1492" r="6"/><circle cx="343" cy="1524" r="7"/><circle cx="638" cy="1527" r="7"/><circle cx="792" cy="1179" r="9"/><circle cx="274" cy="1355" r="7"/><circle cx="893" cy="1672" r="7"/><circle cx="859" cy="1238" r="6"/><circle cx="696" cy="1170" r="7"/><circle cx="598" cy="1520" r="8"/><circle cx="1067" cy="1633" r="6"/><circle cx="462" cy="1437" r="7"/><circle cx="765" cy="1657" r="7"/><circle cx="1118" cy="1457" r="5"/><circle cx="1128" cy="1657" r="6"/><circle cx="905" cy="1445" r="7"/><circle cx="817" cy="1683" r="6"/><circle cx="884" cy="1717" r="6"/><circle cx="746" cy="1383" r="7"/><circle cx="958" cy="1527" r="5"/><circle cx="990" cy="1432" r="5"/><circle cx="691" cy="1675" r="7"/><circle cx="980" cy="1328" r="5"/><circle cx="830" cy="1484" r="6"/><circle cx="1000" cy="1433" r="7"/><circle cx="1103" cy="1615" r="5"/><circle cx="387" cy="1681" r="10"/><circle cx="831" cy="1551" r="6"/><circle cx="601" cy="1325" r="8"/><circle cx="704" cy="1472" r="8"/><circle cx="1117" cy="1625" r="5"/><circle cx="670" cy="1555" r="9"/><circle cx="1053" cy="1497" r="5"/><circle cx="858" cy="1541" r="7"/><circle cx="943" cy="1172" r="6"/><circle cx="875" cy="1377" r="6"/><circle cx="1108" cy="1489" r="5"/><circle cx="933" cy="1568" r="7"/><circle cx="813" cy="1343" r="6"/><circle cx="403" cy="1149" r="7"/><circle cx="986" cy="1600" r="6"/><circle cx="774" cy="1719" r="6"/><circle cx="947" cy="1428" r="6"/><circle cx="699" cy="1308" r="8"/><circle cx="1031" cy="1714" r="6"/><circle cx="980" cy="1568" r="7"/><circle cx="670" cy="1509" r="7"/><circle cx="1055" cy="1312" r="5"/><circle cx="980" cy="1219" r="6"/><circle cx="272" cy="1676" r="10"/><circle cx="1099" cy="1160" r="5"/><circle cx="915" cy="1661" r="6"/><circle cx="1123" cy="1550" r="5"/><circle cx="573" cy="1514" r="7"/><circle cx="1060" cy="1155" r="5"/><circle cx="774" cy="1448" r="9"/><circle cx="1128" cy="1454" r="5"/><circle cx="929" cy="1166" r="6"/><circle cx="961" cy="1379" r="5"/><circle cx="1069" cy="1215" r="5"/><circle cx="377" cy="1149" r="9"/><circle cx="744" cy="1305" r="7"/><circle cx="661" cy="1158" r="7"/><circle cx="952" cy="1195" r="5"/><circle cx="1112" cy="1383" r="5"/><circle cx="762" cy="1519" r="7"/><circle cx="900" cy="1579" r="9"/><circle cx="590" cy="1495" r="7"/><circle cx="904" cy="1403" r="7"/><circle cx="438" cy="1319" r="6"/><circle cx="673" cy="1285" r="6"/><circle cx="630" cy="1420" r="5"/><circle cx="647" cy="1465" r="5"/><circle cx="998" cy="1374" r="4"/><circle cx="1030" cy="1539" r="5"/><circle cx="774" cy="1503" r="4"/><circle cx="1099" cy="1203" r="4"/><circle cx="886" cy="1585" r="6"/><circle cx="441" cy="1387" r="6"/><circle cx="865" cy="1150" r="4"/><circle cx="1033" cy="1645" r="4"/><circle cx="515" cy="1659" r="7"/><circle cx="811" cy="1523" r="5"/><circle cx="653" cy="1655" r="7"/><circle cx="845" cy="1316" r="5"/><circle cx="1020" cy="1442" r="4"/><circle cx="1033" cy="1556" r="4"/><circle cx="1076" cy="1481" r="4"/><circle cx="659" cy="1546" r="5"/><circle cx="472" cy="1155" r="5"/><circle cx="346" cy="1698" r="7"/><circle cx="1109" cy="1440" r="4"/><circle cx="589" cy="1589" r="9"/><circle cx="631" cy="1412" r="5"/><circle cx="665" cy="1498" r="6"/><circle cx="445" cy="1656" r="7"/><circle cx="1039" cy="1240" r="5"/><circle cx="1007" cy="1160" r="5"/><circle cx="1053" cy="1696" r="6"/><circle cx="1095" cy="1309" r="5"/><circle cx="813" cy="1409" r="5"/><circle cx="1075" cy="1379" r="4"/><circle cx="917" cy="1713" r="4"/><circle cx="792" cy="1712" r="4"/><circle cx="1061" cy="1163" r="5"/><circle cx="948" cy="1634" r="6"/><circle cx="522" cy="1372" r="6"/><circle cx="871" cy="1684" r="4"/><circle cx="1081" cy="1329" r="5"/><circle cx="1081" cy="1667" r="4"/><circle cx="455" cy="1462" r="5"/><circle cx="705" cy="1273" r="6"/><circle cx="905" cy="1615" r="6"/><circle cx="1098" cy="1468" r="4"/><circle cx="484" cy="1405" r="6"/><circle cx="990" cy="1209" r="4"/><circle cx="744" cy="1265" r="5"/><circle cx="401" cy="1445" r="6"/><circle cx="808" cy="1719" r="4"/><circle cx="813" cy="1617" r="5"/><circle cx="825" cy="1636" r="6"/><circle cx="600" cy="1268" r="6"/><circle cx="1058" cy="1589" r="5"/><circle cx="847" cy="1149" r="7"/><circle cx="462" cy="1192" r="6"/><circle cx="1079" cy="1294" r="4"/><circle cx="621" cy="1499" r="5"/><circle cx="1059" cy="1641" r="5"/><circle cx="1069" cy="1278" r="4"/><circle cx="329" cy="1630" r="8"/><circle cx="507" cy="1598" r="7"/><circle cx="546" cy="1422" r="5"/><circle cx="1092" cy="1510" r="4"/><circle cx="1079" cy="1630" r="4"/><circle cx="988" cy="1714" r="4"/><circle cx="588" cy="1544" r="6"/><circle cx="812" cy="1553" r="5"/><circle cx="710" cy="1539" r="5"/><circle cx="674" cy="1642" r="6"/><circle cx="1005" cy="1237" r="4"/><circle cx="1124" cy="1313" r="5"/><circle cx="479" cy="1689" r="9"/><circle cx="992" cy="1163" r="5"/><circle cx="332" cy="1528" r="6"/><circle cx="569" cy="1477" r="6"/><circle cx="695" cy="1616" r="7"/><circle cx="620" cy="1263" r="6"/><circle cx="1126" cy="1283" r="4"/><circle cx="1093" cy="1624" r="4"/><circle cx="816" cy="1595" r="4"/><circle cx="565" cy="1720" r="7"/><circle cx="901" cy="1183" r="5"/><circle cx="863" cy="1179" r="4"/><circle cx="831" cy="1267" r="4"/><circle cx="939" cy="1430" r="4"/><circle cx="1024" cy="1282" r="5"/><circle cx="803" cy="1367" r="6"/><circle cx="987" cy="1426" r="4"/><circle cx="933" cy="1332" r="5"/><circle cx="965" cy="1615" r="5"/><circle cx="615" cy="1367" r="6"/><circle cx="1016" cy="1266" r="4"/><circle cx="438" cy="1406" r="5"/><circle cx="1028" cy="1383" r="4"/><circle cx="857" cy="1152" r="4"/><circle cx="792" cy="1487" r="5"/><circle cx="650" cy="1610" r="7"/><circle cx="850" cy="1410" r="5"/><circle cx="775" cy="1433" r="5"/><circle cx="1037" cy="1414" r="5"/><circle cx="1091" cy="1705" r="4"/><circle cx="548" cy="1650" r="9"/><circle cx="736" cy="1408" r="5"/><circle cx="276" cy="1172" r="5"/><circle cx="684" cy="1169" r="6"/><circle cx="364" cy="1626" r="8"/><circle cx="624" cy="1178" r="5"/><circle cx="550" cy="1470" r="5"/><circle cx="704" cy="1388" r="7"/><circle cx="840" cy="1240" r="5"/><circle cx="814" cy="1276" r="5"/><circle cx="963" cy="1370" r="5"/><circle cx="546" cy="1238" r="5"/><circle cx="1129" cy="1272" r="5"/><circle cx="856" cy="1262" r="5"/><circle cx="823" cy="1205" r="5"/><circle cx="716" cy="1667" r="5"/><circle cx="1094" cy="1318" r="5"/><circle cx="940" cy="1709" r="6"/><circle cx="820" cy="1543" r="5"/><circle cx="658" cy="1404" r="5"/><circle cx="459" cy="1415" r="6"/><circle cx="450" cy="1373" r="6"/><circle cx="983" cy="1484" r="4"/><circle cx="751" cy="1255" r="7"/><circle cx="570" cy="1688" r="7"/><circle cx="641" cy="1300" r="5"/><circle cx="1026" cy="1432" r="5"/><circle cx="457" cy="1476" r="5"/><circle cx="822" cy="1309" r="5"/><circle cx="698" cy="1561" r="5"/><circle cx="811" cy="1388" r="4"/><circle cx="437" cy="1623" r="7"/><circle cx="1069" cy="1688" r="4"/><circle cx="585" cy="1722" r="7"/><circle cx="872" cy="1353" r="5"/><circle cx="829" cy="1456" r="5"/><circle cx="424" cy="1363" r="8"/><circle cx="1038" cy="1458" r="5"/><circle cx="402" cy="1195" r="5"/><circle cx="795" cy="1299" r="4"/><circle cx="860" cy="1406" r="4"/><circle cx="569" cy="1345" r="7"/><circle cx="1117" cy="1555" r="4"/><circle cx="781" cy="1428" r="4"/><circle cx="756" cy="1425" r="5"/><circle cx="956" cy="1679" r="5"/><circle cx="1033" cy="1216" r="4"/><circle cx="670" cy="1248" r="5"/><circle cx="1057" cy="1490" r="5"/><circle cx="408" cy="1497" r="5"/><circle cx="979" cy="1532" r="5"/><circle cx="1005" cy="1258" r="4"/><circle cx="690" cy="1331" r="7"/><circle cx="1010" cy="1427" r="4"/><circle cx="471" cy="1485" r="5"/><circle cx="925" cy="1357" r="5"/><circle cx="706" cy="1238" r="6"/><circle cx="1046" cy="1269" r="4"/><circle cx="805" cy="1195" r="5"/><circle cx="921" cy="1668" r="5"/><circle cx="434" cy="1451" r="6"/><circle cx="849" cy="1379" r="5"/><circle cx="697" cy="1347" r="6"/><circle cx="704" cy="1669" r="7"/><circle cx="863" cy="1719" r="4"/><circle cx="1081" cy="1321" r="5"/><circle cx="769" cy="1576" r="5"/><circle cx="947" cy="1566" r="4"/><circle cx="1051" cy="1658" r="4"/><circle cx="963" cy="1222" r="4"/><circle cx="649" cy="1524" r="5"/><circle cx="663" cy="1336" r="5"/><circle cx="1046" cy="1476" r="5"/><circle cx="1028" cy="1343" r="4"/><circle cx="657" cy="1194" r="5"/><circle cx="964" cy="1560" r="4"/><circle cx="1002" cy="1488" r="4"/><circle cx="1127" cy="1421" r="4"/><circle cx="1119" cy="1684" r="5"/><circle cx="976" cy="1700" r="4"/><circle cx="628" cy="1450" r="5"/><circle cx="1004" cy="1713" r="4"/><circle cx="851" cy="1357" r="5"/><circle cx="626" cy="1392" r="5"/><circle cx="557" cy="1491" r="7"/><circle cx="596" cy="1293" r="6"/><circle cx="1127" cy="1616" r="4"/><circle cx="1053" cy="1518" r="5"/><circle cx="476" cy="1188" r="5"/><circle cx="488" cy="1433" r="5"/><circle cx="1080" cy="1422" r="4"/><circle cx="668" cy="1570" r="6"/><circle cx="884" cy="1301" r="4"/><circle cx="1121" cy="1640" r="4"/><circle cx="477" cy="1651" r="7"/><circle cx="639" cy="1685" r="7"/><circle cx="511" cy="1478" r="6"/><circle cx="794" cy="1207" r="5"/><circle cx="672" cy="1476" r="5"/><circle cx="349" cy="1683" r="7"/><circle cx="995" cy="1501" r="4"/><circle cx="1031" cy="1242" r="4"/><circle cx="911" cy="1586" r="6"/><circle cx="814" cy="1304" r="5"/><circle cx="935" cy="1583" r="4"/><circle cx="981" cy="1497" r="4"/><circle cx="908" cy="1150" r="4"/><circle cx="880" cy="1686" r="6"/><circle cx="1117" cy="1369" r="4"/><circle cx="480" cy="1482" r="5"/><circle cx="294" cy="1702" r="7"/><circle cx="852" cy="1627" r="5"/><circle cx="1127" cy="1641" r="5"/><circle cx="999" cy="1185" r="5"/><circle cx="988" cy="1663" r="5"/><circle cx="535" cy="1487" r="7"/><circle cx="753" cy="1601" r="7"/><circle cx="1109" cy="1276" r="5"/><circle cx="424" cy="1672" r="8"/><circle cx="1104" cy="1663" r="4"/><circle cx="543" cy="1413" r="6"/><circle cx="859" cy="1427" r="4"/><circle cx="593" cy="1604" r="7"/><circle cx="795" cy="1397" r="4"/><circle cx="953" cy="1389" r="4"/><circle cx="937" cy="1282" r="4"/><circle cx="831" cy="1290" r="6"/><circle cx="370" cy="1504" r="5"/><circle cx="723" cy="1316" r="6"/><circle cx="765" cy="1677" r="6"/><circle cx="725" cy="1387" r="6"/><circle cx="907" cy="1700" r="5"/><circle cx="462" cy="1203" r="5"/><circle cx="727" cy="1432" r="7"/><circle cx="1102" cy="1565" r="4"/><circle cx="415" cy="1340" r="6"/><circle cx="591" cy="1459" r="7"/><circle cx="919" cy="1201" r="4"/><circle cx="1016" cy="1220" r="4"/><circle cx="725" cy="1511" r="6"/><circle cx="771" cy="1553" r="5"/><circle cx="363" cy="1445" r="5"/><circle cx="354" cy="1149" r="6"/><circle cx="972" cy="1180" r="4"/><circle cx="776" cy="1248" r="4"/><circle cx="865" cy="1499" r="5"/><circle cx="1088" cy="1279" r="4"/><circle cx="332" cy="1614" r="8"/><circle cx="864" cy="1661" r="5"/><circle cx="918" cy="1221" r="5"/><circle cx="534" cy="1397" r="5"/><circle cx="835" cy="1303" r="4"/><circle cx="517" cy="1238" r="5"/><circle cx="1068" cy="1571" r="5"/><circle cx="971" cy="1236" r="4"/><circle cx="418" cy="1700" r="7"/><circle cx="1097" cy="1550" r="5"/><circle cx="940" cy="1376" r="5"/><circle cx="795" cy="1701" r="4"/><circle cx="532" cy="1720" r="8"/><circle cx="409" cy="1552" r="7"/><circle cx="808" cy="1580" r="5"/><circle cx="1079" cy="1598" r="5"/><circle cx="1096" cy="1674" r="4"/><circle cx="1076" cy="1285" r="5"/><circle cx="895" cy="1648" r="5"/><circle cx="960" cy="1196" r="4"/><circle cx="794" cy="1447" r="4"/><circle cx="840" cy="1652" r="5"/><circle cx="576" cy="1583" r="7"/><circle cx="1001" cy="1315" r="4"/><circle cx="412" cy="1583" r="8"/><circle cx="750" cy="1219" r="5"/><circle cx="916" cy="1683" r="5"/><circle cx="805" cy="1476" r="5"/><circle cx="1030" cy="1447" r="4"/><circle cx="1040" cy="1309" r="4"/><circle cx="1035" cy="1543" r="4"/><circle cx="497" cy="1466" r="6"/><circle cx="627" cy="1528" r="5"/><circle cx="1006" cy="1149" r="4"/><circle cx="941" cy="1521" r="4"/><circle cx="313" cy="1395" r="7"/><circle cx="309" cy="1402" r="6"/><circle cx="292" cy="1190" r="5"/><circle cx="300" cy="1320" r="4"/>
</g>
<g fill="url(#pB)">
<circle cx="992" cy="1555" r="5"/><circle cx="929" cy="1379" r="7"/><circle cx="1093" cy="1635" r="10"/><circle cx="334" cy="1510" r="8"/><circle cx="1098" cy="1584" r="6"/><circle cx="955" cy="1251" r="6"/><circle cx="824" cy="1215" r="6"/><circle cx="764" cy="1646" r="6"/><circle cx="1051" cy="1618" r="5"/><circle cx="467" cy="1470" r="9"/><circle cx="392" cy="1169" r="18"/><circle cx="873" cy="1702" r="14"/><circle cx="904" cy="1553" r="9"/><circle cx="1026" cy="1567" r="7"/><circle cx="770" cy="1402" r="6"/><circle cx="552" cy="1531" r="8"/><circle cx="963" cy="1674" r="6"/><circle cx="772" cy="1330" r="7"/><circle cx="989" cy="1636" r="8"/><circle cx="509" cy="1246" r="8"/><circle cx="388" cy="1410" r="17"/><circle cx="425" cy="1305" r="10"/><circle cx="951" cy="1669" r="8"/><circle cx="891" cy="1223" r="8"/><circle cx="1052" cy="1365" r="7"/><circle cx="955" cy="1691" r="7"/><circle cx="822" cy="1561" r="9"/><circle cx="714" cy="1564" r="10"/><circle cx="461" cy="1451" r="10"/><circle cx="819" cy="1449" r="7"/><circle cx="857" cy="1672" r="6"/><circle cx="745" cy="1444" r="7"/><circle cx="430" cy="1266" r="11"/><circle cx="1066" cy="1203" r="8"/><circle cx="711" cy="1157" r="10"/><circle cx="1026" cy="1548" r="7"/><circle cx="565" cy="1418" r="15"/><circle cx="819" cy="1507" r="9"/><circle cx="873" cy="1586" r="6"/><circle cx="799" cy="1573" r="7"/><circle cx="833" cy="1471" r="8"/><circle cx="482" cy="1173" r="10"/><circle cx="681" cy="1708" r="9"/><circle cx="1075" cy="1564" r="8"/><circle cx="662" cy="1266" r="16"/><circle cx="496" cy="1483" r="10"/><circle cx="807" cy="1355" r="8"/><circle cx="851" cy="1465" r="7"/><circle cx="991" cy="1191" r="7"/><circle cx="1073" cy="1663" r="6"/><circle cx="439" cy="1472" r="9"/><circle cx="482" cy="1275" r="9"/><circle cx="879" cy="1674" r="8"/><circle cx="843" cy="1639" r="8"/><circle cx="594" cy="1245" r="8"/><circle cx="665" cy="1484" r="7"/><circle cx="921" cy="1328" r="8"/><circle cx="602" cy="1452" r="8"/><circle cx="677" cy="1362" r="10"/><circle cx="818" cy="1719" r="7"/><circle cx="976" cy="1635" r="5"/><circle cx="539" cy="1327" r="15"/><circle cx="449" cy="1502" r="8"/><circle cx="734" cy="1320" r="8"/><circle cx="843" cy="1296" r="8"/><circle cx="620" cy="1190" r="8"/><circle cx="710" cy="1520" r="10"/><circle cx="602" cy="1339" r="7"/><circle cx="555" cy="1345" r="7"/><circle cx="742" cy="1351" r="7"/><circle cx="669" cy="1220" r="7"/><circle cx="1047" cy="1461" r="6"/><circle cx="836" cy="1325" r="8"/><circle cx="899" cy="1492" r="7"/><circle cx="723" cy="1286" r="8"/><circle cx="733" cy="1695" r="14"/><circle cx="841" cy="1603" r="8"/><circle cx="1066" cy="1532" r="7"/><circle cx="725" cy="1454" r="16"/><circle cx="511" cy="1463" r="11"/><circle cx="997" cy="1542" r="8"/><circle cx="946" cy="1603" r="7"/><circle cx="644" cy="1402" r="10"/><circle cx="541" cy="1505" r="8"/><circle cx="776" cy="1199" r="6"/><circle cx="942" cy="1272" r="6"/><circle cx="743" cy="1243" r="7"/><circle cx="673" cy="1326" r="11"/><circle cx="334" cy="1546" r="10"/><circle cx="1075" cy="1355" r="7"/><circle cx="1049" cy="1160" r="6"/><circle cx="635" cy="1461" r="10"/><circle cx="757" cy="1613" r="8"/><circle cx="814" cy="1200" r="7"/><circle cx="477" cy="1202" r="8"/><circle cx="401" cy="1483" r="9"/><circle cx="872" cy="1162" r="7"/><circle cx="774" cy="1418" r="6"/><circle cx="1109" cy="1235" r="5"/><circle cx="742" cy="1507" r="10"/><circle cx="1014" cy="1648" r="6"/><circle cx="991" cy="1312" r="7"/><circle cx="928" cy="1712" r="8"/><circle cx="690" cy="1218" r="7"/><circle cx="1013" cy="1720" r="7"/><circle cx="766" cy="1279" r="7"/><circle cx="1121" cy="1431" r="7"/><circle cx="811" cy="1652" r="6"/><circle cx="845" cy="1396" r="12"/><circle cx="865" cy="1572" r="7"/><circle cx="867" cy="1535" r="7"/><circle cx="1123" cy="1376" r="7"/><circle cx="1104" cy="1450" r="7"/><circle cx="1100" cy="1518" r="5"/><circle cx="689" cy="1154" r="11"/><circle cx="1095" cy="1359" r="6"/><circle cx="530" cy="1499" r="8"/><circle cx="698" cy="1445" r="7"/><circle cx="807" cy="1466" r="8"/><circle cx="769" cy="1152" r="7"/><circle cx="942" cy="1402" r="7"/><circle cx="492" cy="1185" r="8"/><circle cx="442" cy="1456" r="7"/><circle cx="489" cy="1317" r="7"/><circle cx="708" cy="1651" r="10"/><circle cx="1005" cy="1499" r="7"/><circle cx="723" cy="1352" r="7"/><circle cx="689" cy="1469" r="9"/><circle cx="983" cy="1544" r="7"/><circle cx="894" cy="1536" r="7"/><circle cx="604" cy="1226" r="10"/><circle cx="518" cy="1489" r="9"/><circle cx="973" cy="1156" r="6"/><circle cx="853" cy="1656" r="9"/><circle cx="661" cy="1362" r="8"/><circle cx="758" cy="1587" r="11"/><circle cx="495" cy="1504" r="9"/><circle cx="807" cy="1331" r="9"/><circle cx="708" cy="1714" r="7"/><circle cx="1084" cy="1312" r="7"/><circle cx="955" cy="1557" r="7"/><circle cx="432" cy="1521" r="11"/><circle cx="731" cy="1420" r="8"/><circle cx="925" cy="1467" r="9"/><circle cx="1046" cy="1293" r="8"/><circle cx="400" cy="1465" r="10"/><circle cx="867" cy="1400" r="7"/><circle cx="678" cy="1654" r="8"/><circle cx="832" cy="1278" r="7"/><circle cx="768" cy="1293" r="7"/><circle cx="1122" cy="1476" r="6"/><circle cx="922" cy="1192" r="8"/><circle cx="1072" cy="1292" r="5"/><circle cx="1056" cy="1538" r="6"/><circle cx="993" cy="1461" r="5"/><circle cx="1116" cy="1493" r="5"/><circle cx="359" cy="1161" r="7"/><circle cx="580" cy="1292" r="8"/><circle cx="612" cy="1466" r="11"/><circle cx="956" cy="1229" r="5"/><circle cx="887" cy="1432" r="13"/><circle cx="1114" cy="1362" r="5"/><circle cx="780" cy="1674" r="7"/><circle cx="437" cy="1341" r="17"/><circle cx="775" cy="1374" r="9"/><circle cx="395" cy="1380" r="7"/><circle cx="384" cy="1497" r="11"/><circle cx="951" cy="1315" r="6"/><circle cx="635" cy="1494" r="9"/><circle cx="1044" cy="1603" r="5"/><circle cx="789" cy="1419" r="9"/><circle cx="485" cy="1466" r="7"/><circle cx="521" cy="1392" r="10"/><circle cx="756" cy="1309" r="8"/><circle cx="997" cy="1610" r="11"/><circle cx="988" cy="1367" r="7"/><circle cx="1075" cy="1268" r="5"/><circle cx="663" cy="1417" r="9"/><circle cx="787" cy="1700" r="6"/><circle cx="974" cy="1189" r="7"/><circle cx="945" cy="1468" r="7"/><circle cx="1007" cy="1178" r="7"/><circle cx="902" cy="1325" r="6"/><circle cx="938" cy="1307" r="8"/><circle cx="791" cy="1349" r="7"/><circle cx="757" cy="1191" r="10"/><circle cx="690" cy="1662" r="9"/><circle cx="851" cy="1531" r="7"/><circle cx="852" cy="1160" r="8"/><circle cx="1095" cy="1615" r="6"/><circle cx="1121" cy="1414" r="6"/><circle cx="872" cy="1490" r="8"/><circle cx="964" cy="1299" r="6"/><circle cx="1000" cy="1655" r="8"/><circle cx="450" cy="1151" r="7"/><circle cx="822" cy="1227" r="8"/><circle cx="1064" cy="1305" r="5"/><circle cx="1003" cy="1411" r="5"/><circle cx="636" cy="1227" r="9"/><circle cx="1019" cy="1237" r="11"/><circle cx="1036" cy="1347" r="7"/><circle cx="492" cy="1520" r="7"/><circle cx="1012" cy="1562" r="5"/><circle cx="750" cy="1466" r="7"/><circle cx="786" cy="1507" r="8"/><circle cx="414" cy="1442" r="7"/><circle cx="1034" cy="1250" r="5"/><circle cx="1018" cy="1400" r="7"/><circle cx="398" cy="1539" r="9"/><circle cx="971" cy="1691" r="7"/><circle cx="577" cy="1373" r="7"/><circle cx="744" cy="1209" r="8"/><circle cx="840" cy="1175" r="6"/><circle cx="934" cy="1545" r="6"/><circle cx="894" cy="1707" r="7"/><circle cx="854" cy="1175" r="7"/><circle cx="1004" cy="1465" r="6"/><circle cx="602" cy="1366" r="8"/><circle cx="687" cy="1632" r="7"/><circle cx="1091" cy="1407" r="6"/><circle cx="1093" cy="1349" r="6"/><circle cx="524" cy="1213" r="9"/><circle cx="691" cy="1394" r="7"/><circle cx="865" cy="1194" r="9"/><circle cx="428" cy="1441" r="7"/><circle cx="956" cy="1506" r="5"/><circle cx="1003" cy="1510" r="5"/><circle cx="915" cy="1154" r="7"/><circle cx="902" cy="1466" r="6"/><circle cx="791" cy="1496" r="6"/><circle cx="951" cy="1355" r="7"/><circle cx="943" cy="1513" r="6"/><circle cx="642" cy="1315" r="7"/><circle cx="993" cy="1406" r="6"/><circle cx="1016" cy="1612" r="5"/><circle cx="276" cy="1369" r="8"/><circle cx="1051" cy="1566" r="7"/><circle cx="1120" cy="1650" r="7"/><circle cx="1092" cy="1565" r="5"/><circle cx="903" cy="1346" r="9"/><circle cx="766" cy="1172" r="6"/><circle cx="708" cy="1628" r="10"/><circle cx="884" cy="1572" r="9"/><circle cx="683" cy="1184" r="10"/><circle cx="943" cy="1692" r="7"/><circle cx="668" cy="1696" r="10"/><circle cx="1049" cy="1180" r="7"/><circle cx="999" cy="1303" r="8"/><circle cx="869" cy="1426" r="7"/><circle cx="999" cy="1156" r="6"/><circle cx="986" cy="1692" r="7"/><circle cx="892" cy="1694" r="8"/><circle cx="1113" cy="1608" r="7"/><circle cx="855" cy="1283" r="7"/><circle cx="898" cy="1639" r="6"/><circle cx="700" cy="1322" r="8"/><circle cx="636" cy="1438" r="11"/><circle cx="816" cy="1170" r="8"/><circle cx="890" cy="1622" r="9"/><circle cx="840" cy="1418" r="6"/><circle cx="1076" cy="1648" r="6"/><circle cx="1080" cy="1245" r="6"/><circle cx="471" cy="1407" r="9"/><circle cx="980" cy="1175" r="5"/><circle cx="645" cy="1160" r="7"/><circle cx="803" cy="1237" r="6"/><circle cx="1126" cy="1718" r="7"/><circle cx="691" cy="1542" r="14"/><circle cx="756" cy="1702" r="9"/><circle cx="978" cy="1593" r="7"/><circle cx="1122" cy="1404" r="5"/><circle cx="477" cy="1531" r="10"/><circle cx="1016" cy="1621" r="5"/><circle cx="1102" cy="1412" r="5"/><circle cx="1053" cy="1400" r="5"/><circle cx="761" cy="1552" r="7"/><circle cx="1098" cy="1490" r="7"/><circle cx="968" cy="1577" r="5"/><circle cx="636" cy="1387" r="8"/><circle cx="970" cy="1556" r="5"/><circle cx="763" cy="1531" r="7"/><circle cx="747" cy="1168" r="8"/><circle cx="1068" cy="1591" r="6"/><circle cx="785" cy="1166" r="9"/><circle cx="689" cy="1592" r="10"/><circle cx="989" cy="1583" r="6"/><circle cx="968" cy="1257" r="6"/><circle cx="512" cy="1152" r="11"/><circle cx="921" cy="1259" r="7"/><circle cx="1032" cy="1393" r="7"/><circle cx="1109" cy="1154" r="8"/><circle cx="745" cy="1334" r="8"/><circle cx="931" cy="1250" r="8"/><circle cx="922" cy="1231" r="6"/><circle cx="716" cy="1267" r="7"/><circle cx="914" cy="1361" r="8"/><circle cx="616" cy="1521" r="10"/><circle cx="482" cy="1494" r="9"/><circle cx="808" cy="1261" r="8"/><circle cx="870" cy="1233" r="8"/><circle cx="1128" cy="1184" r="7"/><circle cx="985" cy="1681" r="5"/><circle cx="478" cy="1455" r="8"/><circle cx="604" cy="1413" r="7"/><circle cx="913" cy="1540" r="9"/><circle cx="775" cy="1348" r="6"/><circle cx="1054" cy="1580" r="7"/><circle cx="1076" cy="1178" r="6"/><circle cx="684" cy="1248" r="8"/><circle cx="1065" cy="1580" r="6"/><circle cx="802" cy="1310" r="8"/><circle cx="371" cy="1534" r="9"/><circle cx="1009" cy="1271" r="6"/><circle cx="815" cy="1673" r="6"/><circle cx="1066" cy="1384" r="6"/><circle cx="1113" cy="1636" r="7"/><circle cx="936" cy="1224" r="7"/><circle cx="1026" cy="1373" r="7"/><circle cx="1035" cy="1190" r="6"/><circle cx="1117" cy="1333" r="6"/><circle cx="612" cy="1269" r="7"/><circle cx="1000" cy="1696" r="6"/><circle cx="275" cy="1311" r="11"/><circle cx="1071" cy="1326" r="7"/><circle cx="1007" cy="1532" r="7"/><circle cx="950" cy="1202" r="5"/><circle cx="656" cy="1311" r="10"/><circle cx="693" cy="1268" r="8"/><circle cx="1078" cy="1548" r="6"/><circle cx="972" cy="1227" r="6"/><circle cx="784" cy="1526" r="9"/><circle cx="272" cy="1225" r="10"/><circle cx="1113" cy="1178" r="5"/><circle cx="990" cy="1393" r="7"/><circle cx="639" cy="1478" r="8"/><circle cx="833" cy="1254" r="9"/><circle cx="564" cy="1327" r="7"/><circle cx="274" cy="1502" r="14"/><circle cx="1043" cy="1552" r="6"/><circle cx="373" cy="1455" r="8"/><circle cx="672" cy="1236" r="7"/><circle cx="678" cy="1485" r="8"/><circle cx="741" cy="1657" r="7"/><circle cx="463" cy="1329" r="16"/><circle cx="1083" cy="1475" r="5"/><circle cx="973" cy="1405" r="6"/><circle cx="1069" cy="1314" r="7"/><circle cx="789" cy="1637" r="6"/><circle cx="971" cy="1705" r="6"/><circle cx="949" cy="1378" r="6"/><circle cx="539" cy="1458" r="7"/><circle cx="884" cy="1452" r="9"/><circle cx="971" cy="1421" r="6"/><circle cx="1107" cy="1327" r="8"/><circle cx="888" cy="1522" r="7"/><circle cx="971" cy="1484" r="7"/><circle cx="1117" cy="1187" r="7"/><circle cx="701" cy="1457" r="8"/><circle cx="852" cy="1368" r="8"/><circle cx="1126" cy="1692" r="6"/><circle cx="1000" cy="1639" r="5"/><circle cx="619" cy="1403" r="9"/><circle cx="1025" cy="1331" r="7"/><circle cx="925" cy="1660" r="6"/><circle cx="734" cy="1561" r="10"/><circle cx="835" cy="1566" r="8"/><circle cx="926" cy="1593" r="6"/><circle cx="275" cy="1269" r="7"/><circle cx="827" cy="1655" r="8"/><circle cx="789" cy="1379" r="8"/><circle cx="1037" cy="1667" r="7"/><circle cx="781" cy="1691" r="6"/><circle cx="798" cy="1555" r="8"/><circle cx="625" cy="1167" r="7"/><circle cx="1066" cy="1697" r="5"/><circle cx="1127" cy="1706" r="6"/><circle cx="555" cy="1282" r="7"/><circle cx="958" cy="1364" r="5"/><circle cx="1114" cy="1205" r="7"/><circle cx="991" cy="1705" r="6"/><circle cx="1014" cy="1601" r="7"/><circle cx="1016" cy="1345" r="6"/><circle cx="769" cy="1607" r="8"/><circle cx="904" cy="1566" r="7"/><circle cx="862" cy="1417" r="7"/><circle cx="1113" cy="1312" r="5"/><circle cx="486" cy="1421" r="8"/><circle cx="879" cy="1540" r="7"/><circle cx="1108" cy="1394" r="6"/><circle cx="799" cy="1723" r="7"/><circle cx="720" cy="1241" r="7"/><circle cx="648" cy="1235" r="8"/><circle cx="1000" cy="1519" r="6"/><circle cx="1104" cy="1264" r="6"/><circle cx="1115" cy="1215" r="5"/><circle cx="817" cy="1481" r="9"/><circle cx="840" cy="1524" r="8"/><circle cx="859" cy="1509" r="9"/><circle cx="611" cy="1302" r="10"/><circle cx="996" cy="1420" r="5"/><circle cx="948" cy="1215" r="6"/><circle cx="813" cy="1379" r="7"/><circle cx="1065" cy="1516" r="8"/><circle cx="779" cy="1546" r="6"/><circle cx="729" cy="1656" r="7"/><circle cx="977" cy="1241" r="5"/><circle cx="1045" cy="1515" r="6"/><circle cx="698" cy="1285" r="7"/><circle cx="1084" cy="1226" r="6"/><circle cx="1107" cy="1372" r="7"/><circle cx="320" cy="1520" r="9"/><circle cx="874" cy="1367" r="6"/><circle cx="654" cy="1438" r="7"/><circle cx="1083" cy="1338" r="6"/><circle cx="708" cy="1684" r="10"/><circle cx="412" cy="1328" r="7"/><circle cx="864" cy="1221" r="8"/><circle cx="513" cy="1198" r="7"/><circle cx="730" cy="1492" r="8"/><circle cx="898" cy="1452" r="6"/><circle cx="994" cy="1242" r="7"/><circle cx="1048" cy="1639" r="7"/><circle cx="735" cy="1622" r="8"/><circle cx="966" cy="1718" r="6"/><circle cx="1122" cy="1277" r="5"/><circle cx="895" cy="1314" r="8"/><circle cx="970" cy="1567" r="6"/><circle cx="947" cy="1415" r="8"/><circle cx="820" cy="1463" r="6"/><circle cx="797" cy="1602" r="7"/><circle cx="1104" cy="1172" r="7"/><circle cx="1072" cy="1604" r="7"/><circle cx="1068" cy="1654" r="5"/><circle cx="939" cy="1387" r="6"/><circle cx="1025" cy="1206" r="8"/><circle cx="839" cy="1458" r="7"/><circle cx="783" cy="1397" r="8"/><circle cx="1018" cy="1429" r="6"/><circle cx="953" cy="1518" r="6"/><circle cx="1068" cy="1547" r="7"/><circle cx="1058" cy="1230" r="5"/><circle cx="852" cy="1690" r="7"/><circle cx="901" cy="1605" r="6"/><circle cx="784" cy="1271" r="7"/><circle cx="749" cy="1151" r="11"/><circle cx="926" cy="1274" r="9"/><circle cx="275" cy="1445" r="9"/><circle cx="843" cy="1195" r="7"/><circle cx="503" cy="1404" r="10"/><circle cx="364" cy="1493" r="9"/><circle cx="651" cy="1345" r="8"/><circle cx="1066" cy="1255" r="7"/><circle cx="1011" cy="1307" r="7"/><circle cx="608" cy="1498" r="9"/><circle cx="649" cy="1201" r="8"/><circle cx="950" cy="1327" r="6"/><circle cx="1129" cy="1302" r="7"/><circle cx="983" cy="1234" r="7"/><circle cx="408" cy="1304" r="9"/><circle cx="672" cy="1171" r="7"/><circle cx="1072" cy="1368" r="7"/><circle cx="798" cy="1522" r="7"/><circle cx="603" cy="1396" r="8"/><circle cx="1090" cy="1373" r="5"/><circle cx="929" cy="1429" r="8"/><circle cx="911" cy="1467" r="6"/><circle cx="613" cy="1383" r="8"/><circle cx="1090" cy="1300" r="6"/><circle cx="352" cy="1412" r="7"/><circle cx="272" cy="1480" r="7"/><circle cx="966" cy="1448" r="5"/><circle cx="916" cy="1388" r="6"/><circle cx="1043" cy="1615" r="6"/><circle cx="1065" cy="1193" r="5"/><circle cx="567" cy="1386" r="7"/><circle cx="1102" cy="1603" r="7"/><circle cx="494" cy="1299" r="10"/><circle cx="557" cy="1373" r="9"/><circle cx="979" cy="1163" r="5"/><circle cx="391" cy="1453" r="7"/><circle cx="951" cy="1240" r="7"/><circle cx="958" cy="1640" r="6"/><circle cx="1049" cy="1345" r="6"/><circle cx="658" cy="1379" r="8"/><circle cx="997" cy="1720" r="7"/><circle cx="968" cy="1213" r="6"/><circle cx="1103" cy="1429" r="6"/><circle cx="976" cy="1445" r="7"/><circle cx="920" cy="1645" r="7"/><circle cx="634" cy="1265" r="10"/><circle cx="1009" cy="1642" r="5"/><circle cx="1015" cy="1299" r="5"/><circle cx="1091" cy="1447" r="8"/><circle cx="1038" cy="1363" r="6"/><circle cx="1064" cy="1617" r="6"/><circle cx="716" cy="1414" r="9"/><circle cx="663" cy="1647" r="8"/><circle cx="864" cy="1304" r="6"/><circle cx="984" cy="1656" r="5"/><circle cx="965" cy="1344" r="7"/><circle cx="911" cy="1318" r="6"/><circle cx="1109" cy="1292" r="6"/><circle cx="957" cy="1271" r="5"/><circle cx="1015" cy="1573" r="7"/><circle cx="804" cy="1710" r="7"/><circle cx="1032" cy="1608" r="7"/><circle cx="510" cy="1514" r="8"/><circle cx="696" cy="1232" r="8"/><circle cx="902" cy="1229" r="6"/><circle cx="812" cy="1212" r="6"/><circle cx="1026" cy="1518" r="7"/><circle cx="987" cy="1672" r="7"/><circle cx="998" cy="1710" r="5"/><circle cx="1081" cy="1607" r="5"/><circle cx="1019" cy="1583" r="5"/><circle cx="587" cy="1231" r="8"/><circle cx="1058" cy="1284" r="7"/><circle cx="1077" cy="1221" r="6"/><circle cx="568" cy="1228" r="7"/><circle cx="882" cy="1287" r="6"/><circle cx="1119" cy="1569" r="6"/><circle cx="605" cy="1185" r="10"/><circle cx="846" cy="1720" r="6"/><circle cx="837" cy="1440" r="7"/><circle cx="1036" cy="1451" r="5"/><circle cx="729" cy="1673" r="7"/><circle cx="1067" cy="1173" r="7"/><circle cx="1020" cy="1364" r="5"/><circle cx="769" cy="1565" r="8"/><circle cx="1089" cy="1580" r="6"/><circle cx="558" cy="1519" r="7"/><circle cx="995" cy="1529" r="7"/><circle cx="496" cy="1543" r="8"/><circle cx="526" cy="1458" r="7"/><circle cx="1008" cy="1394" r="5"/><circle cx="938" cy="1368" r="6"/><circle cx="275" cy="1521" r="7"/><circle cx="1029" cy="1676" r="6"/><circle cx="913" cy="1597" r="6"/><circle cx="1110" cy="1481" r="5"/><circle cx="782" cy="1607" r="7"/><circle cx="1085" cy="1535" r="6"/><circle cx="777" cy="1177" r="7"/><circle cx="822" cy="1193" r="6"/><circle cx="999" cy="1168" r="6"/><circle cx="347" cy="1504" r="7"/><circle cx="1060" cy="1443" r="7"/><circle cx="859" cy="1491" r="6"/><circle cx="1129" cy="1165" r="5"/><circle cx="848" cy="1330" r="7"/><circle cx="902" cy="1172" r="7"/><circle cx="1119" cy="1666" r="7"/><circle cx="450" cy="1200" r="8"/><circle cx="1036" cy="1598" r="5"/><circle cx="454" cy="1231" r="7"/><circle cx="1005" cy="1706" r="5"/><circle cx="794" cy="1407" r="6"/><circle cx="1026" cy="1472" r="6"/><circle cx="999" cy="1675" r="7"/><circle cx="637" cy="1150" r="7"/><circle cx="1011" cy="1283" r="6"/><circle cx="1064" cy="1564" r="5"/><circle cx="795" cy="1361" r="6"/><circle cx="724" cy="1613" r="9"/><circle cx="974" cy="1622" r="7"/><circle cx="801" cy="1440" r="6"/><circle cx="888" cy="1350" r="8"/><circle cx="950" cy="1159" r="7"/><circle cx="980" cy="1508" r="7"/><circle cx="954" cy="1178" r="5"/><circle cx="426" cy="1288" r="7"/><circle cx="961" cy="1538" r="6"/><circle cx="274" cy="1157" r="8"/><circle cx="827" cy="1300" r="7"/><circle cx="982" cy="1205" r="5"/><circle cx="939" cy="1293" r="6"/><circle cx="766" cy="1411" r="6"/><circle cx="998" cy="1357" r="6"/><circle cx="889" cy="1413" r="7"/><circle cx="1128" cy="1222" r="6"/><circle cx="1069" cy="1718" r="5"/><circle cx="966" cy="1271" r="6"/><circle cx="478" cy="1348" r="7"/><circle cx="438" cy="1150" r="7"/><circle cx="687" cy="1435" r="7"/><circle cx="410" cy="1221" r="7"/><circle cx="800" cy="1634" r="6"/><circle cx="762" cy="1379" r="6"/><circle cx="1086" cy="1675" r="6"/><circle cx="758" cy="1238" r="7"/><circle cx="1052" cy="1197" r="6"/><circle cx="1062" cy="1600" r="6"/><circle cx="620" cy="1250" r="7"/><circle cx="1091" cy="1208" r="6"/><circle cx="713" cy="1361" r="7"/><circle cx="528" cy="1303" r="10"/><circle cx="884" cy="1310" r="6"/><circle cx="400" cy="1334" r="7"/><circle cx="703" cy="1503" r="8"/><circle cx="621" cy="1313" r="7"/><circle cx="782" cy="1290" r="6"/><circle cx="1013" cy="1632" r="6"/><circle cx="555" cy="1310" r="8"/><circle cx="542" cy="1309" r="7"/><circle cx="680" cy="1722" r="7"/><circle cx="693" cy="1644" r="7"/><circle cx="1058" cy="1391" r="6"/><circle cx="1049" cy="1306" r="6"/><circle cx="820" cy="1494" r="6"/><circle cx="697" cy="1701" r="8"/><circle cx="809" cy="1419" r="6"/><circle cx="1001" cy="1388" r="5"/><circle cx="900" cy="1209" r="6"/><circle cx="1039" cy="1503" r="5"/><circle cx="1044" cy="1691" r="7"/><circle cx="612" cy="1169" r="7"/><circle cx="559" cy="1451" r="7"/><circle cx="272" cy="1209" r="8"/><circle cx="881" cy="1191" r="7"/><circle cx="983" cy="1249" r="7"/><circle cx="1120" cy="1350" r="6"/><circle cx="991" cy="1592" r="5"/><circle cx="1084" cy="1415" r="6"/><circle cx="1043" cy="1485" r="6"/><circle cx="730" cy="1195" r="7"/><circle cx="879" cy="1220" r="6"/><circle cx="1093" cy="1421" r="7"/><circle cx="1030" cy="1483" r="5"/><circle cx="965" cy="1464" r="5"/><circle cx="428" cy="1412" r="7"/><circle cx="832" cy="1643" r="6"/><circle cx="768" cy="1364" r="6"/><circle cx="1086" cy="1361" r="5"/><circle cx="730" cy="1245" r="7"/><circle cx="1128" cy="1593" r="7"/><circle cx="1118" cy="1699" r="5"/><circle cx="807" cy="1449" r="6"/><circle cx="974" cy="1608" r="5"/><circle cx="1030" cy="1406" r="5"/><circle cx="1012" cy="1437" r="6"/><circle cx="531" cy="1380" r="7"/><circle cx="794" cy="1669" r="6"/><circle cx="1100" cy="1234" r="6"/><circle cx="761" cy="1206" r="8"/><circle cx="817" cy="1696" r="6"/><circle cx="798" cy="1341" r="6"/><circle cx="517" cy="1411" r="7"/><circle cx="1053" cy="1554" r="5"/><circle cx="852" cy="1453" r="7"/><circle cx="1044" cy="1674" r="5"/><circle cx="1080" cy="1209" r="6"/><circle cx="942" cy="1484" r="7"/><circle cx="965" cy="1658" r="5"/><circle cx="996" cy="1271" r="7"/><circle cx="990" cy="1648" r="6"/><circle cx="1043" cy="1248" r="6"/><circle cx="555" cy="1153" r="7"/><circle cx="687" cy="1454" r="8"/><circle cx="1089" cy="1550" r="5"/><circle cx="809" cy="1564" r="6"/><circle cx="889" cy="1466" r="6"/><circle cx="1066" cy="1706" r="5"/><circle cx="846" cy="1261" r="6"/><circle cx="761" cy="1394" r="6"/><circle cx="1092" cy="1233" r="5"/><circle cx="891" cy="1326" r="7"/><circle cx="807" cy="1643" r="6"/><circle cx="1118" cy="1304" r="5"/><circle cx="860" cy="1209" r="6"/><circle cx="1099" cy="1401" r="5"/><circle cx="547" cy="1544" r="7"/><circle cx="415" cy="1455" r="7"/><circle cx="510" cy="1335" r="7"/><circle cx="879" cy="1272" r="6"/><circle cx="734" cy="1338" r="6"/><circle cx="657" cy="1247" r="6"/><circle cx="700" cy="1362" r="8"/><circle cx="1016" cy="1320" r="5"/><circle cx="659" cy="1167" r="5"/><circle cx="1002" cy="1401" r="5"/><circle cx="1058" cy="1298" r="6"/><circle cx="769" cy="1237" r="5"/><circle cx="604" cy="1440" r="6"/><circle cx="952" cy="1397" r="5"/><circle cx="935" cy="1194" r="7"/><circle cx="967" cy="1632" r="5"/><circle cx="952" cy="1591" r="5"/><circle cx="492" cy="1286" r="5"/><circle cx="981" cy="1308" r="5"/><circle cx="810" cy="1190" r="5"/><circle cx="802" cy="1204" r="5"/><circle cx="821" cy="1395" r="5"/><circle cx="1039" cy="1319" r="6"/><circle cx="536" cy="1421" r="7"/><circle cx="815" cy="1627" r="4"/><circle cx="769" cy="1438" r="5"/><circle cx="1082" cy="1170" r="5"/><circle cx="553" cy="1390" r="6"/><circle cx="1065" cy="1682" r="5"/><circle cx="569" cy="1335" r="5"/><circle cx="1074" cy="1336" r="5"/><circle cx="773" cy="1228" r="5"/><circle cx="412" cy="1316" r="5"/><circle cx="406" cy="1251" r="6"/><circle cx="1068" cy="1411" r="5"/><circle cx="640" cy="1215" r="6"/><circle cx="762" cy="1469" r="4"/><circle cx="1086" cy="1492" r="6"/><circle cx="927" cy="1223" r="4"/><circle cx="563" cy="1395" r="5"/><circle cx="577" cy="1383" r="5"/><circle cx="825" cy="1572" r="5"/><circle cx="1012" cy="1657" r="5"/><circle cx="1085" cy="1695" r="5"/><circle cx="385" cy="1356" r="6"/><circle cx="1129" cy="1384" r="4"/><circle cx="1048" cy="1353" r="5"/><circle cx="542" cy="1444" r="6"/><circle cx="999" cy="1479" r="5"/><circle cx="918" cy="1419" r="6"/><circle cx="1096" cy="1287" r="4"/><circle cx="965" cy="1404" r="5"/><circle cx="1070" cy="1436" r="4"/><circle cx="737" cy="1387" r="5"/><circle cx="814" cy="1235" r="6"/><circle cx="1011" cy="1513" r="4"/><circle cx="681" cy="1270" r="5"/><circle cx="876" cy="1560" r="5"/><circle cx="971" cy="1436" r="5"/><circle cx="985" cy="1721" r="5"/><circle cx="1008" cy="1419" r="6"/><circle cx="1053" cy="1467" r="4"/><circle cx="335" cy="1482" r="7"/><circle cx="760" cy="1406" r="5"/><circle cx="833" cy="1410" r="6"/><circle cx="1122" cy="1363" r="5"/><circle cx="954" cy="1464" r="5"/><circle cx="680" cy="1669" r="5"/><circle cx="763" cy="1161" r="6"/><circle cx="961" cy="1709" r="4"/><circle cx="1099" cy="1572" r="4"/><circle cx="840" cy="1162" r="4"/><circle cx="1073" cy="1429" r="4"/><circle cx="789" cy="1311" r="4"/><circle cx="441" cy="1397" r="5"/><circle cx="1089" cy="1397" r="5"/><circle cx="982" cy="1150" r="4"/><circle cx="867" cy="1560" r="6"/><circle cx="914" cy="1374" r="5"/><circle cx="1037" cy="1303" r="4"/><circle cx="1040" cy="1196" r="4"/><circle cx="506" cy="1392" r="5"/><circle cx="828" cy="1337" r="4"/><circle cx="650" cy="1149" r="6"/><circle cx="1128" cy="1543" r="4"/><circle cx="1083" cy="1375" r="4"/><circle cx="505" cy="1267" r="5"/><circle cx="523" cy="1317" r="6"/><circle cx="1024" cy="1628" r="4"/><circle cx="855" cy="1643" r="5"/><circle cx="1030" cy="1358" r="5"/><circle cx="613" cy="1485" r="6"/><circle cx="566" cy="1441" r="7"/><circle cx="930" cy="1648" r="6"/><circle cx="855" cy="1187" r="6"/><circle cx="771" cy="1684" r="4"/><circle cx="1053" cy="1189" r="4"/><circle cx="856" cy="1568" r="4"/><circle cx="1092" cy="1605" r="4"/><circle cx="533" cy="1352" r="5"/><circle cx="992" cy="1383" r="4"/><circle cx="606" cy="1257" r="7"/><circle cx="648" cy="1450" r="7"/><circle cx="714" cy="1256" r="5"/><circle cx="728" cy="1343" r="5"/><circle cx="905" cy="1302" r="5"/><circle cx="964" cy="1699" r="5"/><circle cx="1062" cy="1185" r="4"/><circle cx="925" cy="1497" r="5"/><circle cx="945" cy="1229" r="4"/><circle cx="1004" cy="1192" r="4"/><circle cx="1032" cy="1323" r="4"/><circle cx="975" cy="1339" r="4"/><circle cx="767" cy="1637" r="6"/><circle cx="468" cy="1269" r="6"/><circle cx="509" cy="1499" r="6"/><circle cx="954" cy="1342" r="4"/><circle cx="1020" cy="1555" r="4"/><circle cx="796" cy="1644" r="5"/><circle cx="701" cy="1570" r="6"/><circle cx="981" cy="1196" r="4"/><circle cx="493" cy="1264" r="7"/><circle cx="466" cy="1149" r="6"/><circle cx="767" cy="1464" r="5"/><circle cx="865" cy="1287" r="5"/><circle cx="1079" cy="1346" r="4"/><circle cx="830" cy="1492" r="5"/><circle cx="930" cy="1672" r="5"/><circle cx="1103" cy="1527" r="4"/><circle cx="1127" cy="1570" r="4"/><circle cx="853" cy="1347" r="4"/><circle cx="547" cy="1496" r="6"/><circle cx="748" cy="1555" r="6"/><circle cx="967" cy="1249" r="4"/><circle cx="906" cy="1256" r="5"/><circle cx="648" cy="1474" r="5"/><circle cx="873" cy="1307" r="5"/><circle cx="580" cy="1527" r="6"/><circle cx="450" cy="1219" r="5"/><circle cx="1013" cy="1458" r="6"/><circle cx="983" cy="1402" r="5"/><circle cx="916" cy="1237" r="6"/><circle cx="504" cy="1192" r="7"/><circle cx="507" cy="1358" r="5"/><circle cx="914" cy="1570" r="4"/><circle cx="1088" cy="1595" r="5"/><circle cx="1129" cy="1603" r="5"/><circle cx="420" cy="1200" r="6"/><circle cx="911" cy="1334" r="6"/><circle cx="576" cy="1218" r="8"/><circle cx="1128" cy="1666" r="5"/><circle cx="768" cy="1184" r="5"/><circle cx="916" cy="1700" r="5"/><circle cx="990" cy="1280" r="4"/><circle cx="990" cy="1452" r="5"/><circle cx="1113" cy="1260" r="4"/><circle cx="768" cy="1253" r="4"/><circle cx="988" cy="1500" r="4"/><circle cx="1045" cy="1540" r="4"/><circle cx="847" cy="1185" r="5"/><circle cx="1051" cy="1275" r="4"/><circle cx="693" cy="1203" r="8"/><circle cx="446" cy="1233" r="5"/><circle cx="930" cy="1553" r="5"/><circle cx="1102" cy="1184" r="5"/><circle cx="859" cy="1581" r="6"/><circle cx="1118" cy="1590" r="4"/><circle cx="554" cy="1357" r="7"/><circle cx="1007" cy="1544" r="4"/><circle cx="1104" cy="1543" r="4"/><circle cx="543" cy="1349" r="6"/><circle cx="840" cy="1708" r="5"/><circle cx="668" cy="1301" r="5"/><circle cx="791" cy="1568" r="5"/><circle cx="1072" cy="1450" r="4"/><circle cx="1091" cy="1159" r="5"/><circle cx="841" cy="1625" r="4"/><circle cx="682" cy="1224" r="6"/><circle cx="530" cy="1524" r="5"/><circle cx="537" cy="1243" r="5"/><circle cx="1089" cy="1468" r="5"/><circle cx="892" cy="1560" r="4"/><circle cx="707" cy="1334" r="5"/><circle cx="496" cy="1326" r="5"/><circle cx="971" cy="1167" r="4"/><circle cx="517" cy="1533" r="6"/><circle cx="466" cy="1390" r="5"/><circle cx="927" cy="1215" r="4"/><circle cx="870" cy="1213" r="4"/><circle cx="864" cy="1597" r="4"/><circle cx="960" cy="1260" r="4"/><circle cx="893" cy="1547" r="4"/><circle cx="883" cy="1633" r="5"/><circle cx="801" cy="1414" r="5"/><circle cx="684" cy="1282" r="5"/><circle cx="776" cy="1283" r="5"/><circle cx="660" cy="1596" r="5"/><circle cx="1107" cy="1496" r="4"/><circle cx="918" cy="1530" r="5"/><circle cx="417" cy="1257" r="5"/><circle cx="1010" cy="1406" r="4"/><circle cx="1112" cy="1196" r="4"/><circle cx="916" cy="1248" r="5"/><circle cx="481" cy="1507" r="5"/><circle cx="423" cy="1171" r="7"/><circle cx="931" cy="1287" r="5"/><circle cx="1021" cy="1151" r="4"/><circle cx="507" cy="1233" r="6"/><circle cx="835" cy="1218" r="4"/><circle cx="892" cy="1633" r="4"/><circle cx="994" cy="1666" r="4"/><circle cx="743" cy="1494" r="5"/><circle cx="372" cy="1479" r="8"/><circle cx="1036" cy="1523" r="4"/><circle cx="793" cy="1368" r="5"/><circle cx="581" cy="1466" r="6"/><circle cx="1005" cy="1475" r="4"/><circle cx="1116" cy="1517" r="5"/><circle cx="1111" cy="1428" r="4"/><circle cx="806" cy="1686" r="5"/><circle cx="895" cy="1499" r="4"/><circle cx="807" cy="1229" r="5"/><circle cx="881" cy="1472" r="4"/><circle cx="454" cy="1189" r="5"/><circle cx="399" cy="1495" r="6"/><circle cx="1095" cy="1261" r="4"/><circle cx="914" cy="1398" r="4"/><circle cx="902" cy="1279" r="5"/><circle cx="496" cy="1226" r="7"/><circle cx="884" cy="1341" r="5"/><circle cx="851" cy="1519" r="4"/><circle cx="898" cy="1421" r="5"/><circle cx="1079" cy="1235" r="5"/><circle cx="1087" cy="1686" r="4"/><circle cx="384" cy="1539" r="5"/><circle cx="928" cy="1207" r="6"/><circle cx="847" cy="1243" r="5"/><circle cx="1056" cy="1207" r="4"/><circle cx="829" cy="1396" r="5"/><circle cx="1126" cy="1330" r="4"/><circle cx="367" cy="1411" r="6"/><circle cx="972" cy="1302" r="4"/><circle cx="1014" cy="1503" r="4"/><circle cx="420" cy="1432" r="7"/><circle cx="863" cy="1267" r="5"/><circle cx="1038" cy="1434" r="4"/><circle cx="834" cy="1629" r="4"/><circle cx="845" cy="1252" r="4"/><circle cx="908" cy="1458" r="4"/><circle cx="1042" cy="1394" r="4"/><circle cx="926" cy="1388" r="5"/><circle cx="1087" cy="1611" r="4"/><circle cx="974" cy="1658" r="4"/><circle cx="804" cy="1284" r="5"/><circle cx="414" cy="1410" r="5"/><circle cx="812" cy="1221" r="5"/><circle cx="489" cy="1349" r="5"/><circle cx="844" cy="1587" r="5"/><circle cx="969" cy="1456" r="6"/><circle cx="731" cy="1360" r="5"/><circle cx="941" cy="1674" r="4"/><circle cx="533" cy="1255" r="6"/><circle cx="1008" cy="1245" r="4"/><circle cx="1064" cy="1477" r="4"/><circle cx="754" cy="1721" r="5"/><circle cx="812" cy="1367" r="5"/><circle cx="1101" cy="1534" r="4"/><circle cx="963" cy="1520" r="4"/><circle cx="407" cy="1236" r="5"/><circle cx="809" cy="1513" r="4"/><circle cx="952" cy="1660" r="5"/><circle cx="410" cy="1178" r="5"/><circle cx="688" cy="1318" r="5"/><circle cx="1023" cy="1600" r="4"/><circle cx="652" cy="1391" r="5"/><circle cx="576" cy="1435" r="6"/><circle cx="1016" cy="1694" r="4"/><circle cx="901" cy="1628" r="5"/><circle cx="589" cy="1220" r="5"/><circle cx="826" cy="1584" r="5"/><circle cx="924" cy="1239" r="5"/><circle cx="959" cy="1548" r="5"/><circle cx="975" cy="1414" r="4"/><circle cx="606" cy="1314" r="5"/><circle cx="1007" cy="1567" r="4"/><circle cx="1017" cy="1532" r="4"/><circle cx="900" cy="1334" r="5"/><circle cx="697" cy="1183" r="6"/><circle cx="940" cy="1261" r="4"/><circle cx="847" cy="1444" r="5"/><circle cx="936" cy="1461" r="4"/><circle cx="718" cy="1712" r="5"/>
</g>
<g fill="url(#pC)">
<circle cx="707" cy="1486" r="9"/><circle cx="812" cy="1604" r="7"/><circle cx="349" cy="1614" r="11"/><circle cx="307" cy="1713" r="12"/><circle cx="821" cy="1436" r="7"/><circle cx="510" cy="1722" r="12"/><circle cx="435" cy="1569" r="9"/><circle cx="532" cy="1657" r="10"/><circle cx="358" cy="1717" r="10"/><circle cx="493" cy="1592" r="10"/><circle cx="349" cy="1483" r="9"/><circle cx="512" cy="1676" r="10"/><circle cx="762" cy="1224" r="9"/><circle cx="336" cy="1462" r="11"/><circle cx="629" cy="1603" r="12"/><circle cx="763" cy="1508" r="8"/><circle cx="794" cy="1195" r="9"/><circle cx="469" cy="1550" r="10"/><circle cx="542" cy="1631" r="12"/><circle cx="307" cy="1556" r="11"/><circle cx="537" cy="1603" r="9"/><circle cx="475" cy="1229" r="16"/><circle cx="546" cy="1671" r="12"/><circle cx="450" cy="1637" r="12"/><circle cx="626" cy="1698" r="12"/><circle cx="861" cy="1334" r="8"/><circle cx="361" cy="1568" r="9"/><circle cx="709" cy="1292" r="9"/><circle cx="646" cy="1364" r="9"/><circle cx="726" cy="1638" r="10"/><circle cx="1046" cy="1330" r="8"/><circle cx="459" cy="1722" r="12"/><circle cx="895" cy="1298" r="8"/><circle cx="434" cy="1189" r="13"/><circle cx="668" cy="1588" r="9"/><circle cx="713" cy="1396" r="7"/><circle cx="873" cy="1634" r="7"/><circle cx="493" cy="1672" r="11"/><circle cx="939" cy="1617" r="9"/><circle cx="619" cy="1564" r="9"/><circle cx="843" cy="1343" r="7"/><circle cx="594" cy="1205" r="11"/><circle cx="606" cy="1664" r="11"/><circle cx="1025" cy="1171" r="6"/><circle cx="493" cy="1614" r="10"/><circle cx="355" cy="1651" r="9"/><circle cx="578" cy="1566" r="10"/><circle cx="1059" cy="1689" r="6"/><circle cx="585" cy="1357" r="8"/><circle cx="395" cy="1577" r="11"/><circle cx="880" cy="1609" r="7"/><circle cx="522" cy="1706" r="9"/><circle cx="827" cy="1594" r="6"/><circle cx="494" cy="1648" r="11"/><circle cx="503" cy="1560" r="9"/><circle cx="280" cy="1718" r="11"/><circle cx="892" cy="1339" r="6"/><circle cx="426" cy="1716" r="12"/><circle cx="443" cy="1417" r="8"/><circle cx="760" cy="1248" r="6"/><circle cx="759" cy="1339" r="7"/><circle cx="922" cy="1580" r="9"/><circle cx="642" cy="1668" r="10"/><circle cx="881" cy="1261" r="6"/><circle cx="516" cy="1583" r="10"/><circle cx="1119" cy="1168" r="7"/><circle cx="421" cy="1596" r="9"/><circle cx="793" cy="1284" r="8"/><circle cx="783" cy="1559" r="9"/><circle cx="737" cy="1603" r="7"/><circle cx="946" cy="1184" r="7"/><circle cx="1035" cy="1230" r="6"/><circle cx="584" cy="1342" r="9"/><circle cx="553" cy="1434" r="7"/><circle cx="617" cy="1422" r="9"/><circle cx="388" cy="1440" r="8"/><circle cx="609" cy="1286" r="9"/><circle cx="558" cy="1585" r="12"/><circle cx="806" cy="1626" r="6"/><circle cx="899" cy="1719" r="7"/><circle cx="363" cy="1685" r="10"/><circle cx="966" cy="1604" r="6"/><circle cx="960" cy="1624" r="8"/><circle cx="835" cy="1614" r="8"/><circle cx="855" cy="1250" r="6"/><circle cx="402" cy="1359" r="13"/><circle cx="622" cy="1233" r="8"/><circle cx="650" cy="1697" r="10"/><circle cx="385" cy="1663" r="10"/><circle cx="908" cy="1197" r="8"/><circle cx="285" cy="1642" r="12"/><circle cx="1040" cy="1162" r="6"/><circle cx="347" cy="1443" r="10"/><circle cx="403" cy="1619" r="11"/><circle cx="1059" cy="1337" r="7"/><circle cx="291" cy="1685" r="11"/><circle cx="1062" cy="1270" r="6"/><circle cx="886" cy="1397" r="7"/><circle cx="1108" cy="1671" r="6"/><circle cx="947" cy="1283" r="7"/><circle cx="1109" cy="1694" r="7"/><circle cx="953" cy="1709" r="6"/><circle cx="339" cy="1587" r="10"/><circle cx="577" cy="1672" r="12"/><circle cx="292" cy="1587" r="10"/><circle cx="957" cy="1435" r="6"/><circle cx="770" cy="1388" r="7"/><circle cx="1103" cy="1309" r="5"/><circle cx="423" cy="1617" r="10"/><circle cx="322" cy="1647" r="11"/><circle cx="945" cy="1650" r="9"/><circle cx="847" cy="1574" r="8"/><circle cx="415" cy="1508" r="9"/><circle cx="519" cy="1612" r="10"/><circle cx="871" cy="1342" r="6"/><circle cx="779" cy="1303" r="8"/><circle cx="674" cy="1443" r="10"/><circle cx="918" cy="1506" r="8"/><circle cx="1123" cy="1156" r="6"/><circle cx="645" cy="1587" r="11"/><circle cx="754" cy="1368" r="8"/><circle cx="891" cy="1178" r="6"/><circle cx="821" cy="1245" r="7"/><circle cx="385" cy="1369" r="8"/><circle cx="1003" cy="1588" r="8"/><circle cx="525" cy="1360" r="7"/><circle cx="455" cy="1405" r="7"/><circle cx="382" cy="1552" r="11"/><circle cx="1062" cy="1322" r="5"/><circle cx="575" cy="1707" r="10"/><circle cx="1063" cy="1647" r="5"/><circle cx="1094" cy="1326" r="6"/><circle cx="470" cy="1666" r="12"/><circle cx="952" cy="1299" r="8"/><circle cx="1078" cy="1684" r="7"/><circle cx="913" cy="1631" r="8"/><circle cx="1063" cy="1459" r="6"/><circle cx="961" cy="1497" r="5"/><circle cx="532" cy="1231" r="7"/><circle cx="1016" cy="1540" r="6"/><circle cx="1015" cy="1467" r="6"/><circle cx="919" cy="1305" r="9"/><circle cx="317" cy="1619" r="10"/><circle cx="479" cy="1256" r="10"/><circle cx="641" cy="1541" r="10"/><circle cx="527" cy="1688" r="11"/><circle cx="448" cy="1586" r="11"/><circle cx="836" cy="1313" r="7"/><circle cx="996" cy="1289" r="7"/><circle cx="1107" cy="1654" r="7"/><circle cx="822" cy="1403" r="6"/><circle cx="500" cy="1256" r="7"/><circle cx="331" cy="1569" r="11"/><circle cx="947" cy="1582" r="8"/><circle cx="850" cy="1307" r="6"/><circle cx="460" cy="1490" r="8"/><circle cx="420" cy="1389" r="17"/><circle cx="817" cy="1150" r="8"/><circle cx="1060" cy="1221" r="6"/><circle cx="1053" cy="1149" r="5"/><circle cx="593" cy="1309" r="9"/><circle cx="1053" cy="1168" r="5"/><circle cx="855" cy="1593" r="7"/><circle cx="1077" cy="1402" r="7"/><circle cx="454" cy="1690" r="9"/><circle cx="743" cy="1398" r="9"/><circle cx="600" cy="1718" r="10"/><circle cx="982" cy="1298" r="6"/><circle cx="353" cy="1669" r="10"/><circle cx="887" cy="1150" r="6"/><circle cx="585" cy="1625" r="11"/><circle cx="1000" cy="1563" r="6"/><circle cx="1120" cy="1294" r="7"/><circle cx="659" cy="1618" r="7"/><circle cx="529" cy="1281" r="10"/><circle cx="754" cy="1541" r="7"/><circle cx="548" cy="1721" r="10"/><circle cx="1025" cy="1723" r="5"/><circle cx="960" cy="1589" r="5"/><circle cx="376" cy="1612" r="12"/><circle cx="750" cy="1525" r="8"/><circle cx="452" cy="1268" r="10"/><circle cx="745" cy="1632" r="7"/><circle cx="1104" cy="1213" r="5"/><circle cx="548" cy="1483" r="8"/><circle cx="888" cy="1660" r="8"/><circle cx="955" cy="1723" r="6"/><circle cx="359" cy="1548" r="10"/><circle cx="1050" cy="1260" r="7"/><circle cx="1054" cy="1676" r="7"/><circle cx="1085" cy="1516" r="6"/><circle cx="1003" cy="1222" r="6"/><circle cx="1026" cy="1661" r="8"/><circle cx="1091" cy="1182" r="7"/><circle cx="447" cy="1706" r="10"/><circle cx="941" cy="1322" r="6"/><circle cx="446" cy="1246" r="7"/><circle cx="497" cy="1239" r="7"/><circle cx="905" cy="1219" r="6"/><circle cx="658" cy="1683" r="8"/><circle cx="1079" cy="1587" r="8"/><circle cx="893" cy="1683" r="6"/><circle cx="1083" cy="1654" r="5"/><circle cx="819" cy="1290" r="8"/><circle cx="921" cy="1290" r="7"/><circle cx="914" cy="1477" r="6"/><circle cx="987" cy="1625" r="6"/><circle cx="632" cy="1283" r="8"/><circle cx="662" cy="1395" r="7"/><circle cx="662" cy="1290" r="7"/><circle cx="568" cy="1360" r="10"/><circle cx="882" cy="1649" r="6"/><circle cx="427" cy="1638" r="11"/><circle cx="1012" cy="1477" r="5"/><circle cx="932" cy="1183" r="6"/><circle cx="521" cy="1266" r="8"/><circle cx="425" cy="1549" r="11"/><circle cx="1000" cy="1627" r="5"/><circle cx="672" cy="1631" r="7"/><circle cx="412" cy="1567" r="11"/><circle cx="779" cy="1238" r="7"/><circle cx="782" cy="1362" r="7"/><circle cx="1087" cy="1289" r="6"/><circle cx="930" cy="1516" r="6"/><circle cx="908" cy="1709" r="6"/><circle cx="758" cy="1450" r="9"/><circle cx="970" cy="1331" r="8"/><circle cx="720" cy="1331" r="9"/><circle cx="1077" cy="1496" r="6"/><circle cx="714" cy="1307" r="8"/><circle cx="504" cy="1348" r="8"/><circle cx="384" cy="1474" r="8"/><circle cx="418" cy="1212" r="7"/><circle cx="1089" cy="1255" r="5"/><circle cx="1106" cy="1552" r="6"/><circle cx="1115" cy="1582" r="6"/><circle cx="630" cy="1633" r="12"/><circle cx="313" cy="1675" r="11"/><circle cx="610" cy="1241" r="8"/><circle cx="627" cy="1657" r="9"/><circle cx="653" cy="1562" r="11"/><circle cx="925" cy="1399" r="8"/><circle cx="1011" cy="1212" r="6"/><circle cx="1021" cy="1160" r="5"/><circle cx="392" cy="1602" r="10"/><circle cx="510" cy="1369" r="8"/><circle cx="868" cy="1321" r="8"/><circle cx="635" cy="1570" r="10"/><circle cx="1025" cy="1220" r="6"/><circle cx="493" cy="1151" r="10"/><circle cx="1020" cy="1389" r="6"/><circle cx="560" cy="1558" r="9"/><circle cx="276" cy="1577" r="9"/><circle cx="1030" cy="1294" r="6"/><circle cx="824" cy="1423" r="8"/><circle cx="357" cy="1596" r="10"/><circle cx="938" cy="1501" r="9"/><circle cx="455" cy="1609" r="11"/><circle cx="1129" cy="1355" r="5"/><circle cx="376" cy="1590" r="12"/><circle cx="890" cy="1382" r="8"/><circle cx="426" cy="1689" r="9"/><circle cx="795" cy="1265" r="8"/><circle cx="1057" cy="1354" r="6"/><circle cx="1070" cy="1233" r="6"/><circle cx="1056" cy="1721" r="5"/><circle cx="891" cy="1365" r="6"/><circle cx="1017" cy="1518" r="5"/><circle cx="903" cy="1507" r="6"/><circle cx="977" cy="1265" r="6"/><circle cx="1122" cy="1390" r="6"/><circle cx="973" cy="1646" r="7"/><circle cx="962" cy="1242" r="6"/><circle cx="780" cy="1709" r="7"/><circle cx="733" cy="1575" r="7"/><circle cx="1096" cy="1391" r="7"/><circle cx="535" cy="1152" r="9"/><circle cx="1129" cy="1484" r="7"/><circle cx="414" cy="1478" r="8"/><circle cx="818" cy="1578" r="7"/><circle cx="1068" cy="1673" r="7"/><circle cx="505" cy="1382" r="7"/><circle cx="897" cy="1157" r="7"/><circle cx="872" cy="1601" r="6"/><circle cx="590" cy="1278" r="11"/><circle cx="749" cy="1416" r="8"/><circle cx="1042" cy="1405" r="7"/><circle cx="630" cy="1302" r="9"/><circle cx="1124" cy="1323" r="5"/><circle cx="814" cy="1662" r="6"/><circle cx="275" cy="1248" r="8"/><circle cx="1025" cy="1531" r="5"/><circle cx="541" cy="1434" r="7"/><circle cx="1084" cy="1154" r="5"/><circle cx="1048" cy="1228" r="8"/><circle cx="468" cy="1703" r="10"/><circle cx="793" cy="1156" r="6"/><circle cx="1075" cy="1619" r="5"/><circle cx="589" cy="1439" r="7"/><circle cx="671" cy="1604" r="7"/><circle cx="992" cy="1571" r="6"/><circle cx="1129" cy="1255" r="6"/><circle cx="1014" cy="1254" r="7"/><circle cx="805" cy="1538" r="11"/><circle cx="600" cy="1556" r="9"/><circle cx="1068" cy="1151" r="6"/><circle cx="857" cy="1477" r="6"/><circle cx="868" cy="1547" r="6"/><circle cx="1080" cy="1574" r="5"/><circle cx="1045" cy="1628" r="6"/><circle cx="346" cy="1637" r="9"/><circle cx="972" cy="1354" r="5"/><circle cx="934" cy="1601" r="7"/><circle cx="1022" cy="1504" r="6"/><circle cx="915" cy="1408" r="6"/><circle cx="371" cy="1702" r="11"/><circle cx="1030" cy="1155" r="6"/><circle cx="1113" cy="1268" r="5"/><circle cx="725" cy="1591" r="10"/><circle cx="595" cy="1471" r="7"/><circle cx="1044" cy="1441" r="7"/><circle cx="436" cy="1429" r="7"/><circle cx="884" cy="1552" r="7"/><circle cx="870" cy="1459" r="8"/><circle cx="660" cy="1456" r="7"/><circle cx="907" cy="1428" r="7"/><circle cx="921" cy="1174" r="6"/><circle cx="1126" cy="1533" r="8"/><circle cx="865" cy="1650" r="7"/><circle cx="1110" cy="1594" r="6"/><circle cx="822" cy="1358" r="8"/><circle cx="1112" cy="1561" r="5"/><circle cx="1024" cy="1698" r="5"/><circle cx="901" cy="1365" r="6"/><circle cx="774" cy="1212" r="6"/><circle cx="1076" cy="1694" r="5"/><circle cx="277" cy="1623" r="10"/><circle cx="1045" cy="1414" r="5"/><circle cx="546" cy="1399" r="7"/><circle cx="942" cy="1720" r="7"/><circle cx="1110" cy="1514" r="5"/><circle cx="877" cy="1519" r="6"/><circle cx="483" cy="1720" r="11"/><circle cx="1042" cy="1217" r="5"/><circle cx="930" cy="1318" r="6"/><circle cx="825" cy="1625" r="7"/><circle cx="1025" cy="1650" r="5"/><circle cx="446" cy="1552" r="10"/><circle cx="760" cy="1323" r="8"/><circle cx="1086" cy="1239" r="5"/><circle cx="1040" cy="1587" r="5"/><circle cx="520" cy="1557" r="10"/><circle cx="996" cy="1685" r="6"/><circle cx="540" cy="1705" r="10"/><circle cx="694" cy="1516" r="9"/><circle cx="434" cy="1170" r="7"/><circle cx="881" cy="1330" r="7"/><circle cx="316" cy="1694" r="10"/><circle cx="777" cy="1645" r="7"/><circle cx="834" cy="1430" r="6"/><circle cx="1063" cy="1499" r="7"/><circle cx="821" cy="1520" r="6"/><circle cx="643" cy="1177" r="7"/><circle cx="1034" cy="1176" r="6"/><circle cx="983" cy="1183" r="5"/><circle cx="835" cy="1584" r="6"/><circle cx="913" cy="1673" r="6"/><circle cx="957" cy="1653" r="5"/><circle cx="853" cy="1318" r="6"/><circle cx="591" cy="1651" r="10"/><circle cx="491" cy="1574" r="9"/><circle cx="434" cy="1536" r="7"/><circle cx="860" cy="1437" r="6"/><circle cx="885" cy="1163" r="8"/><circle cx="943" cy="1150" r="6"/><circle cx="769" cy="1541" r="6"/><circle cx="503" cy="1631" r="12"/><circle cx="1038" cy="1207" r="6"/><circle cx="751" cy="1646" r="8"/><circle cx="631" cy="1322" r="8"/><circle cx="965" cy="1512" r="6"/><circle cx="505" cy="1436" r="8"/><circle cx="618" cy="1719" r="10"/><circle cx="732" cy="1273" r="9"/><circle cx="1113" cy="1463" r="5"/><circle cx="1080" cy="1467" r="5"/><circle cx="835" cy="1150" r="6"/><circle cx="840" cy="1355" r="7"/><circle cx="827" cy="1671" r="8"/><circle cx="465" cy="1354" r="8"/><circle cx="710" cy="1699" r="7"/><circle cx="982" cy="1558" r="6"/><circle cx="535" cy="1580" r="11"/><circle cx="993" cy="1509" r="6"/><circle cx="808" cy="1496" r="6"/><circle cx="622" cy="1357" r="8"/><circle cx="1124" cy="1243" r="6"/><circle cx="1022" cy="1484" r="5"/><circle cx="378" cy="1721" r="11"/><circle cx="963" cy="1354" r="5"/><circle cx="864" cy="1523" r="7"/><circle cx="849" cy="1680" r="6"/><circle cx="1045" cy="1574" r="6"/><circle cx="1051" cy="1705" r="6"/><circle cx="1106" cy="1581" r="5"/><circle cx="1054" cy="1376" r="5"/><circle cx="972" cy="1470" r="7"/><circle cx="441" cy="1277" r="7"/><circle cx="1063" cy="1362" r="5"/><circle cx="936" cy="1417" r="6"/><circle cx="1008" cy="1201" r="5"/><circle cx="1089" cy="1647" r="5"/><circle cx="540" cy="1518" r="7"/><circle cx="619" cy="1585" r="7"/><circle cx="872" cy="1509" r="5"/><circle cx="775" cy="1267" r="5"/><circle cx="437" cy="1607" r="8"/><circle cx="911" cy="1180" r="7"/><circle cx="961" cy="1664" r="4"/><circle cx="1007" cy="1626" r="4"/><circle cx="338" cy="1651" r="7"/><circle cx="625" cy="1483" r="8"/><circle cx="609" cy="1619" r="7"/><circle cx="943" cy="1537" r="6"/><circle cx="561" cy="1661" r="7"/><circle cx="305" cy="1602" r="7"/><circle cx="454" cy="1566" r="8"/><circle cx="459" cy="1242" r="5"/><circle cx="588" cy="1376" r="6"/><circle cx="1046" cy="1373" r="4"/><circle cx="855" cy="1722" r="4"/><circle cx="774" cy="1618" r="4"/><circle cx="488" cy="1246" r="6"/><circle cx="294" cy="1567" r="7"/><circle cx="821" cy="1413" r="5"/><circle cx="387" cy="1626" r="7"/><circle cx="396" cy="1561" r="7"/><circle cx="827" cy="1236" r="5"/><circle cx="656" cy="1577" r="5"/><circle cx="862" cy="1345" r="5"/><circle cx="504" cy="1689" r="8"/><circle cx="804" cy="1405" r="5"/><circle cx="338" cy="1603" r="7"/><circle cx="719" cy="1203" r="7"/><circle cx="838" cy="1534" r="5"/><circle cx="552" cy="1230" r="7"/><circle cx="831" cy="1515" r="6"/><circle cx="823" cy="1370" r="5"/><circle cx="842" cy="1284" r="5"/><circle cx="384" cy="1526" r="7"/><circle cx="498" cy="1168" r="7"/><circle cx="308" cy="1152" r="5"/><circle cx="1016" cy="1591" r="5"/><circle cx="1013" cy="1355" r="5"/><circle cx="1008" cy="1338" r="6"/><circle cx="1045" cy="1594" r="6"/><circle cx="941" cy="1592" r="5"/><circle cx="843" cy="1557" r="5"/><circle cx="976" cy="1347" r="5"/><circle cx="475" cy="1613" r="8"/><circle cx="848" cy="1422" r="4"/><circle cx="1067" cy="1241" r="5"/><circle cx="301" cy="1651" r="8"/><circle cx="1106" cy="1357" r="6"/><circle cx="925" cy="1722" r="4"/><circle cx="910" cy="1296" r="5"/><circle cx="547" cy="1274" r="7"/><circle cx="972" cy="1677" r="5"/><circle cx="1128" cy="1444" r="5"/><circle cx="518" cy="1502" r="5"/><circle cx="875" cy="1657" r="5"/><circle cx="761" cy="1435" r="5"/><circle cx="357" cy="1453" r="5"/><circle cx="486" cy="1557" r="9"/><circle cx="381" cy="1386" r="8"/><circle cx="767" cy="1269" r="5"/><circle cx="443" cy="1225" r="5"/><circle cx="965" cy="1363" r="4"/><circle cx="387" cy="1484" r="5"/><circle cx="745" cy="1618" r="6"/><circle cx="883" cy="1513" r="5"/><circle cx="407" cy="1596" r="7"/><circle cx="1016" cy="1181" r="4"/><circle cx="1076" cy="1198" r="4"/><circle cx="833" cy="1230" r="5"/><circle cx="915" cy="1722" r="4"/><circle cx="827" cy="1317" r="5"/><circle cx="678" cy="1581" r="5"/><circle cx="890" cy="1611" r="4"/><circle cx="1055" cy="1250" r="5"/><circle cx="949" cy="1444" r="5"/><circle cx="877" cy="1154" r="5"/><circle cx="865" cy="1611" r="6"/><circle cx="640" cy="1617" r="8"/><circle cx="742" cy="1369" r="6"/><circle cx="1100" cy="1366" r="4"/><circle cx="811" cy="1160" r="5"/><circle cx="345" cy="1558" r="8"/><circle cx="1101" cy="1436" r="4"/><circle cx="372" cy="1673" r="7"/><circle cx="607" cy="1691" r="7"/><circle cx="666" cy="1208" r="5"/><circle cx="1116" cy="1321" r="4"/><circle cx="1115" cy="1286" r="4"/><circle cx="602" cy="1352" r="7"/><circle cx="968" cy="1197" r="5"/><circle cx="748" cy="1232" r="7"/><circle cx="801" cy="1384" r="5"/><circle cx="593" cy="1151" r="5"/><circle cx="1095" cy="1654" r="4"/><circle cx="972" cy="1203" r="5"/><circle cx="426" cy="1423" r="6"/><circle cx="708" cy="1552" r="6"/><circle cx="1036" cy="1333" r="5"/><circle cx="749" cy="1321" r="5"/><circle cx="377" cy="1573" r="7"/><circle cx="997" cy="1321" r="5"/><circle cx="1059" cy="1527" r="4"/><circle cx="744" cy="1197" r="5"/><circle cx="1092" cy="1334" r="4"/><circle cx="1087" cy="1247" r="4"/><circle cx="931" cy="1298" r="6"/><circle cx="911" cy="1227" r="4"/><circle cx="1127" cy="1198" r="4"/><circle cx="918" cy="1518" r="5"/><circle cx="996" cy="1230" r="5"/><circle cx="1120" cy="1522" r="4"/><circle cx="964" cy="1230" r="4"/><circle cx="779" cy="1223" r="5"/><circle cx="1080" cy="1720" r="6"/><circle cx="691" cy="1482" r="6"/><circle cx="862" cy="1168" r="4"/><circle cx="1105" cy="1642" r="6"/><circle cx="1004" cy="1283" r="4"/><circle cx="1011" cy="1224" r="4"/><circle cx="1085" cy="1459" r="4"/><circle cx="463" cy="1622" r="7"/><circle cx="984" cy="1615" r="5"/><circle cx="1081" cy="1369" r="5"/><circle cx="812" cy="1572" r="5"/><circle cx="647" cy="1498" r="6"/><circle cx="581" cy="1250" r="6"/><circle cx="1069" cy="1393" r="5"/><circle cx="495" cy="1373" r="5"/><circle cx="698" cy="1337" r="5"/><circle cx="951" cy="1170" r="4"/><circle cx="392" cy="1708" r="7"/><circle cx="1116" cy="1242" r="4"/><circle cx="706" cy="1261" r="5"/><circle cx="897" cy="1264" r="5"/><circle cx="1098" cy="1375" r="4"/><circle cx="933" cy="1722" r="4"/><circle cx="1021" cy="1273" r="5"/><circle cx="889" cy="1485" r="4"/><circle cx="597" cy="1679" r="7"/><circle cx="639" cy="1649" r="7"/><circle cx="776" cy="1495" r="5"/><circle cx="721" cy="1168" r="5"/><circle cx="673" cy="1310" r="6"/><circle cx="538" cy="1473" r="5"/><circle cx="538" cy="1530" r="5"/><circle cx="370" cy="1656" r="8"/><circle cx="659" cy="1230" r="6"/><circle cx="323" cy="1585" r="7"/><circle cx="742" cy="1533" r="5"/><circle cx="469" cy="1278" r="6"/><circle cx="903" cy="1373" r="5"/><circle cx="1076" cy="1253" r="5"/><circle cx="1103" cy="1220" r="4"/><circle cx="853" cy="1201" r="6"/><circle cx="387" cy="1638" r="7"/><circle cx="450" cy="1427" r="5"/><circle cx="556" cy="1708" r="7"/><circle cx="463" cy="1648" r="7"/><circle cx="670" cy="1429" r="6"/><circle cx="1085" cy="1556" r="5"/><circle cx="800" cy="1664" r="5"/><circle cx="1002" cy="1424" r="4"/><circle cx="526" cy="1593" r="7"/><circle cx="1060" cy="1372" r="4"/><circle cx="616" cy="1201" r="5"/><circle cx="959" cy="1309" r="4"/><circle cx="318" cy="1248" r="9"/><circle cx="322" cy="1392" r="7"/>
</g>
</g>
<rect x="277.0" y="1154.0" width="847.6" height="566.6" filter="url(#grain)" style="mix-blend-mode:overlay" opacity="0.18"/>
<rect x="277.0" y="1720.6" width="847.6" height="37.0" fill="#262626"/>
<line x1="374.5" y1="1722.6" x2="374.5" y2="1755.6" stroke="#4a4a4a" stroke-width="1.2" stroke-linecap="butt"/>
<line x1="700.0" y1="1722.6" x2="700.0" y2="1755.6" stroke="#4a4a4a" stroke-width="1.2" stroke-linecap="butt"/>
<line x1="798.0" y1="1730.0" x2="934.0" y2="1730.0" stroke="#3c3c3c" stroke-width="1.5" stroke-linecap="butt"/>
<line x1="969.0" y1="1730.0" x2="1103.0" y2="1730.0" stroke="#3c3c3c" stroke-width="1.5" stroke-linecap="butt"/>
<g font-size="12" font-weight="bold" fill="#e6e6e6">
<text x="322" y="1736" textLength="18" lengthAdjust="spacingAndGlyphs">HV</text>
<text x="375" y="1736" textLength="23" lengthAdjust="spacingAndGlyphs">curr</text>
<text x="426" y="1736" textLength="17" lengthAdjust="spacingAndGlyphs">tilt</text>
<text x="481" y="1736" textLength="28" lengthAdjust="spacingAndGlyphs">mag</text>
<text x="539" y="1736" textLength="23" lengthAdjust="spacingAndGlyphs">WD</text>
<text x="592" y="1736" textLength="17" lengthAdjust="spacingAndGlyphs">det</text>
<text x="665" y="1736" textLength="33" lengthAdjust="spacingAndGlyphs">mode</text>
<text x="711" y="1736" textLength="54" lengthAdjust="spacingAndGlyphs">1 µm</text>
<text x="322" y="1754" textLength="51" lengthAdjust="spacingAndGlyphs">2.00 kV</text>
<text x="375" y="1754" textLength="38" lengthAdjust="spacingAndGlyphs">3.1 pA</text>
<text x="421" y="1754" textLength="52" lengthAdjust="spacingAndGlyphs">100 000 x</text>
<text x="481" y="1754" textLength="48" lengthAdjust="spacingAndGlyphs">4.0 mm</text>
<text x="539" y="1754" textLength="40" lengthAdjust="spacingAndGlyphs">15 µs</text>
<text x="592" y="1754" textLength="33" lengthAdjust="spacingAndGlyphs">TLD</text>
<text x="632" y="1754" textLength="23" lengthAdjust="spacingAndGlyphs">SE</text>
<text x="662" y="1754" textLength="15" lengthAdjust="spacingAndGlyphs">0</text>
<text x="705" y="1754" textLength="71" lengthAdjust="spacingAndGlyphs">Nova 450</text>
<text x="937" y="1736" font-size="11">1</text><text x="933" y="1754" font-size="11">1</text><text x="947" y="1754" font-size="11" fill="#888">µm</text>
</g>
<g fill="none" stroke="#d0d0d0" stroke-width="2.2"><circle cx="298" cy="1738" r="9"/><path d="M286,1738 h24 M298,1726 v24 M290,1730 l16,16 M306,1730 l-16,16"/></g>
</svg>
<rect x="277" y="1281" width="2" height="14" fill="#fff"/>
<text x="298.5" y="1647.5" font-size="84" text-anchor="start" font-weight="bold" fill="#fff">500 nm</text>
<line x1="328.6" y1="1676.7" x2="379.0" y2="1676.7" stroke="#fff" stroke-width="7.6" stroke-linecap="butt"/>
<svg x="1338.0" y="1154.0" width="853.6" height="604.0" viewBox="1338.0 1154.0 853.6 604.0" overflow="hidden">
<rect x="1338.0" y="1154.0" width="853.6" height="604.0" fill="#2a2a2a"/>
<g filter="url(#soft)">
<circle cx="1892" cy="1698" r="20" fill="url(#spB)"/><circle cx="2159" cy="1480" r="27" fill="url(#spB)"/><circle cx="2163" cy="1694" r="22" fill="url(#spB)"/><circle cx="1603" cy="1648" r="25" fill="url(#spB)"/><circle cx="1978" cy="1664" r="18" fill="url(#spB)"/><circle cx="2132" cy="1723" r="23" fill="url(#spB)"/><circle cx="1641" cy="1471" r="29" fill="url(#spB)"/><circle cx="1416" cy="1360" r="27" fill="url(#spB)"/><circle cx="1684" cy="1297" r="26" fill="url(#spB)"/><circle cx="2043" cy="1429" r="24" fill="url(#spB)"/><circle cx="2011" cy="1218" r="24" fill="url(#spB)"/><circle cx="1725" cy="1758" r="30" fill="url(#spB)"/><circle cx="1764" cy="1358" r="19" fill="url(#spB)"/><circle cx="1648" cy="1579" r="22" fill="url(#spB)"/><circle cx="1753" cy="1619" r="28" fill="url(#spB)"/><circle cx="1480" cy="1659" r="31" fill="url(#spB)"/><circle cx="1961" cy="1258" r="29" fill="url(#spB)"/><circle cx="1953" cy="1171" r="20" fill="url(#spB)"/><circle cx="1541" cy="1700" r="18" fill="url(#spB)"/><circle cx="1560" cy="1747" r="25" fill="url(#spB)"/><circle cx="1349" cy="1476" r="22" fill="url(#spB)"/><circle cx="1566" cy="1247" r="32" fill="url(#spB)"/><circle cx="2047" cy="1194" r="30" fill="url(#spB)"/><circle cx="1746" cy="1486" r="25" fill="url(#spB)"/><circle cx="2190" cy="1578" r="19" fill="url(#spB)"/><circle cx="1859" cy="1404" r="20" fill="url(#spB)"/><circle cx="1829" cy="1602" r="30" fill="url(#spB)"/><circle cx="1491" cy="1585" r="27" fill="url(#spB)"/><circle cx="1919" cy="1289" r="20" fill="url(#spB)"/><circle cx="2047" cy="1545" r="29" fill="url(#spB)"/><circle cx="1676" cy="1213" r="18" fill="url(#spB)"/><circle cx="1704" cy="1435" r="19" fill="url(#spB)"/><circle cx="1667" cy="1686" r="20" fill="url(#spB)"/><circle cx="1909" cy="1330" r="27" fill="url(#spB)"/><circle cx="1680" cy="1742" r="23" fill="url(#spB)"/><circle cx="1546" cy="1184" r="24" fill="url(#spB)"/><circle cx="1986" cy="1501" r="24" fill="url(#spB)"/><circle cx="1394" cy="1256" r="22" fill="url(#spB)"/><circle cx="2044" cy="1593" r="19" fill="url(#spB)"/><circle cx="1993" cy="1720" r="25" fill="url(#spB)"/><circle cx="1496" cy="1389" r="22" fill="url(#spB)"/><circle cx="1361" cy="1342" r="23" fill="url(#spB)"/><circle cx="1918" cy="1469" r="22" fill="url(#spB)"/><circle cx="2103" cy="1298" r="32" fill="url(#spB)"/><circle cx="1745" cy="1215" r="21" fill="url(#spB)"/><circle cx="1400" cy="1613" r="28" fill="url(#spB)"/><circle cx="1781" cy="1184" r="24" fill="url(#spB)"/><circle cx="2135" cy="1209" r="23" fill="url(#spB)"/><circle cx="1729" cy="1385" r="25" fill="url(#spB)"/><circle cx="2108" cy="1544" r="27" fill="url(#spB)"/><circle cx="1569" cy="1438" r="22" fill="url(#spB)"/><circle cx="2104" cy="1689" r="21" fill="url(#spB)"/><circle cx="1354" cy="1654" r="31" fill="url(#spB)"/><circle cx="1982" cy="1379" r="29" fill="url(#spB)"/><circle cx="1887" cy="1380" r="23" fill="url(#spB)"/><circle cx="1562" cy="1655" r="27" fill="url(#spB)"/><circle cx="1760" cy="1680" r="19" fill="url(#spB)"/><circle cx="1860" cy="1524" r="21" fill="url(#spB)"/><circle cx="1735" cy="1248" r="21" fill="url(#spB)"/><circle cx="2117" cy="1242" r="22" fill="url(#spB)"/><circle cx="1687" cy="1353" r="19" fill="url(#spB)"/><circle cx="1436" cy="1479" r="19" fill="url(#spB)"/><circle cx="2140" cy="1435" r="24" fill="url(#spB)"/><circle cx="1461" cy="1328" r="18" fill="url(#spB)"/><circle cx="1465" cy="1411" r="19" fill="url(#spB)"/><circle cx="2133" cy="1330" r="19" fill="url(#spB)"/><circle cx="2189" cy="1233" r="28" fill="url(#spB)"/><circle cx="2003" cy="1339" r="23" fill="url(#spB)"/><circle cx="2068" cy="1632" r="22" fill="url(#spB)"/><circle cx="1954" cy="1616" r="25" fill="url(#spB)"/><circle cx="2084" cy="1346" r="31" fill="url(#spB)"/><circle cx="1905" cy="1184" r="24" fill="url(#spB)"/><circle cx="1533" cy="1596" r="24" fill="url(#spB)"/><circle cx="1569" cy="1374" r="31" fill="url(#spB)"/><circle cx="1784" cy="1308" r="29" fill="url(#spB)"/><circle cx="2044" cy="1491" r="22" fill="url(#spB)"/><circle cx="2190" cy="1514" r="31" fill="url(#spB)"/><circle cx="1428" cy="1567" r="24" fill="url(#spB)"/><circle cx="1802" cy="1484" r="22" fill="url(#spB)"/><circle cx="2189" cy="1302" r="21" fill="url(#spB)"/><circle cx="1825" cy="1663" r="25" fill="url(#spB)"/><circle cx="1507" cy="1450" r="22" fill="url(#spB)"/><circle cx="1635" cy="1540" r="21" fill="url(#spB)"/><circle cx="1344" cy="1228" r="31" fill="url(#spB)"/><circle cx="2139" cy="1166" r="20" fill="url(#spB)"/><circle cx="1832" cy="1279" r="30" fill="url(#spB)"/><circle cx="1346" cy="1396" r="23" fill="url(#spB)"/><circle cx="1723" cy="1665" r="23" fill="url(#spB)"/><circle cx="1472" cy="1757" r="23" fill="url(#spB)"/><circle cx="1665" cy="1166" r="27" fill="url(#spB)"/><circle cx="1567" cy="1548" r="19" fill="url(#spB)"/><circle cx="1870" cy="1310" r="21" fill="url(#spB)"/><circle cx="2175" cy="1155" r="28" fill="url(#spB)"/><circle cx="2037" cy="1247" r="21" fill="url(#spB)"/><circle cx="2008" cy="1681" r="25" fill="url(#spB)"/><circle cx="1487" cy="1485" r="24" fill="url(#spB)"/><circle cx="1606" cy="1335" r="31" fill="url(#spB)"/><circle cx="1514" cy="1752" r="24" fill="url(#spB)"/><circle cx="1455" cy="1164" r="19" fill="url(#spB)"/><circle cx="1352" cy="1612" r="18" fill="url(#spB)"/><circle cx="1447" cy="1274" r="18" fill="url(#spB)"/><circle cx="2078" cy="1404" r="21" fill="url(#spB)"/><circle cx="1738" cy="1540" r="27" fill="url(#spB)"/><circle cx="1490" cy="1302" r="24" fill="url(#spB)"/><circle cx="1437" cy="1240" r="26" fill="url(#spB)"/><circle cx="1545" cy="1297" r="20" fill="url(#spB)"/><circle cx="1631" cy="1621" r="24" fill="url(#spB)"/><circle cx="1387" cy="1485" r="25" fill="url(#spB)"/><circle cx="1782" cy="1585" r="20" fill="url(#spB)"/><circle cx="1930" cy="1679" r="26" fill="url(#spB)"/><circle cx="2138" cy="1519" r="19" fill="url(#spB)"/><circle cx="1878" cy="1438" r="21" fill="url(#spB)"/><circle cx="1733" cy="1285" r="23" fill="url(#spB)"/><circle cx="1798" cy="1376" r="26" fill="url(#spB)"/><circle cx="2164" cy="1391" r="21" fill="url(#spB)"/><circle cx="1361" cy="1304" r="24" fill="url(#spB)"/><circle cx="1859" cy="1716" r="21" fill="url(#spB)"/><circle cx="1819" cy="1224" r="19" fill="url(#spB)"/><circle cx="1917" cy="1597" r="20" fill="url(#spB)"/><circle cx="2104" cy="1756" r="24" fill="url(#spB)"/><circle cx="1686" cy="1577" r="21" fill="url(#spB)"/>
<circle cx="1536" cy="1553" r="28" fill="url(#spM)"/>
<circle cx="1762" cy="1429" r="28" fill="url(#spM)"/>
<circle cx="1936" cy="1501" r="28" fill="url(#spD)"/>
<circle cx="1870" cy="1746" r="28" fill="url(#spM)"/>
<circle cx="1484" cy="1184" r="33" fill="url(#spM)"/>
<circle cx="1352" cy="1270" r="33" fill="url(#spD)"/>
<circle cx="1445" cy="1382" r="33" fill="url(#spD)"/>
<circle cx="1346" cy="1718" r="33" fill="url(#spM)"/>
<circle cx="2002" cy="1160" r="33" fill="url(#spD)"/>
<circle cx="2170" cy="1201" r="33" fill="url(#spM)"/>
<circle cx="2079" cy="1256" r="33" fill="url(#spD)"/>
<circle cx="2115" cy="1382" r="33" fill="url(#spD)"/>
<circle cx="2165" cy="1347" r="33" fill="url(#spD)"/>
<circle cx="2176" cy="1429" r="33" fill="url(#spM)"/>
<circle cx="2156" cy="1567" r="33" fill="url(#spM)"/>
<circle cx="2173" cy="1732" r="33" fill="url(#spD)"/>
<circle cx="1677" cy="1259" r="36" fill="url(#spD)"/>
<circle cx="1467" cy="1448" r="36" fill="url(#spM)"/>
<circle cx="1544" cy="1407" r="36" fill="url(#spD)"/>
<circle cx="1729" cy="1581" r="36" fill="url(#spM)"/>
<circle cx="1456" cy="1520" r="36" fill="url(#spD)"/>
<circle cx="1718" cy="1704" r="36" fill="url(#spD)"/>
<circle cx="2101" cy="1184" r="36" fill="url(#spM)"/>
<circle cx="1870" cy="1245" r="36" fill="url(#spM)"/>
<circle cx="2156" cy="1278" r="36" fill="url(#spM)"/>
<circle cx="2041" cy="1363" r="36" fill="url(#spD)"/>
<circle cx="1900" cy="1545" r="36" fill="url(#spD)"/>
<circle cx="2085" cy="1589" r="36" fill="url(#spD)"/>
<circle cx="1788" cy="1647" r="36" fill="url(#spD)"/>
<circle cx="2022" cy="1630" r="36" fill="url(#spM)"/>
<circle cx="1685" cy="1638" r="40" fill="url(#spM)"/>
<circle cx="1492" cy="1716" r="40" fill="url(#spR)"/>
<circle cx="2019" cy="1292" r="40" fill="url(#spM)"/>
<circle cx="1997" cy="1449" r="40" fill="url(#spR)"/>
<circle cx="1862" cy="1479" r="40" fill="url(#spM)"/>
<circle cx="1925" cy="1729" r="40" fill="url(#spR)"/>
<circle cx="1610" cy="1283" r="42" fill="url(#spR)"/>
<circle cx="1723" cy="1327" r="42" fill="url(#spR)"/>
<circle cx="1434" cy="1650" r="42" fill="url(#spM)"/>
<circle cx="1947" cy="1215" r="42" fill="url(#spR)"/>
<circle cx="1840" cy="1341" r="42" fill="url(#spR)"/>
<circle cx="1953" cy="1344" r="42" fill="url(#spR)"/>
<circle cx="1922" cy="1418" r="42" fill="url(#spM)"/>
<circle cx="1729" cy="1170" r="45" fill="url(#spR)"/>
<circle cx="1418" cy="1308" r="45" fill="url(#spM)"/>
<circle cx="1528" cy="1344" r="45" fill="url(#spM)"/>
<circle cx="1586" cy="1594" r="45" fill="url(#spR)"/>
<circle cx="1782" cy="1259" r="45" fill="url(#spR)"/>
<circle cx="1790" cy="1424" r="45" fill="url(#spR)"/>
<circle cx="1843" cy="1179" r="48" fill="url(#spR)"/>
<circle cx="1801" cy="1537" r="48" fill="url(#spR)"/>
<circle cx="1801" cy="1727" r="48" fill="url(#spR)"/>
<circle cx="1388" cy="1429" r="52" fill="url(#spR)"/>
<circle cx="1376" cy="1545" r="52" fill="url(#spR)"/>
<circle cx="1613" cy="1704" r="52" fill="url(#spR)"/>
<circle cx="2096" cy="1487" r="52" fill="url(#spR)"/>
<circle cx="2140" cy="1647" r="52" fill="url(#spR)"/>
<circle cx="2052" cy="1713" r="52" fill="url(#spR)"/>
<circle cx="1558" cy="1493" r="55" fill="url(#spR)"/>
<circle cx="1682" cy="1512" r="55" fill="url(#spR)"/>
<circle cx="1503" cy="1245" r="57" fill="url(#spR)"/>
<circle cx="1986" cy="1562" r="57" fill="url(#spR)"/>
<circle cx="1878" cy="1641" r="57" fill="url(#spR)"/>
<circle cx="1396" cy="1190" r="61" fill="url(#spR)"/>
<circle cx="1608" cy="1190" r="61" fill="url(#spR)"/>
<circle cx="1632" cy="1391" r="61" fill="url(#spR)"/>
<circle cx="1415" cy="1718" r="61" fill="url(#spR)"/>
</g>
<rect x="1338.0" y="1154.0" width="853.6" height="604.0" filter="url(#grain2)" style="mix-blend-mode:overlay" opacity="0.4"/>
</svg>
<rect x="1338" y="1535" width="2" height="142" fill="#fff"/>
<text x="1370.0" y="1636.3" font-size="84" text-anchor="start" font-weight="bold" fill="#fff">100 nm</text>
<line x1="1387.9" y1="1676.0" x2="1449.0" y2="1676.0" stroke="#fff" stroke-width="8.0" stroke-linecap="butt"/>
<line x1="272.5" y1="1937.0" x2="272.5" y2="1980.0" stroke="#222" stroke-width="5.5" stroke-linecap="butt"/>
<line x1="271.5" y1="1980.0" x2="271.5" y2="2723.0" stroke="#000" stroke-width="7.0" stroke-linecap="butt"/>
<line x1="269.0" y1="2702.5" x2="1129.5" y2="2702.5" stroke="#000" stroke-width="7.0" stroke-linecap="butt"/>
<line x1="699.2" y1="2702.0" x2="699.2" y2="2723.0" stroke="#000" stroke-width="7.0" stroke-linecap="butt"/>
<line x1="1126.5" y1="2702.0" x2="1126.5" y2="2723.0" stroke="#000" stroke-width="7.0" stroke-linecap="butt"/>
<text transform="translate(272.0,2805.0) scale(1,1.028)" font-size="67" text-anchor="middle">600</text>
<text transform="translate(699.2,2805.0) scale(1,1.028)" font-size="67" text-anchor="middle">800</text>
<text transform="translate(1126.5,2805.0) scale(1,1.028)" font-size="67" text-anchor="middle">1000</text>
<text transform="translate(701.5,2904.0) scale(1,1.028)" font-size="67" text-anchor="middle">Wavelength (nm)</text>
<text transform="translate(142.5,2320) rotate(-90) scale(1,1.028)" font-size="67" text-anchor="middle">Absorbance</text>
<path d="M272.0,2147.3 C287.8,2145.8 303.8,2145.2 319.5,2142.8 C339.5,2139.7 359.2,2134.9 379.0,2130.9 C393.9,2127.9 409.1,2126.1 423.7,2122.0 C434.0,2119.1 444.0,2114.8 453.5,2110.0 C463.7,2104.8 473.2,2098.1 483.0,2092.0 C493.1,2085.7 502.6,2078.6 513.0,2072.9 C522.5,2067.7 532.4,2062.8 542.7,2059.5 C552.3,2056.4 562.7,2056.1 572.5,2053.5 C579.6,2051.6 587.2,2049.8 593.3,2046.0 C600.0,2041.9 605.8,2035.7 611.0,2029.7 C618.7,2020.9 625.3,2011.1 632.0,2001.4 C637.3,1993.7 641.2,1984.9 647.0,1977.6 C651.1,1972.5 656.4,1967.9 661.8,1964.2 C666.3,1961.2 671.6,1959.4 676.7,1957.5 C680.9,1956.0 685.4,1954.3 689.8,1954.0 C693.2,1953.8 696.8,1954.8 700.0,1956.0 C704.7,1957.7 709.9,1959.5 713.6,1962.7 C719.4,1967.7 724.7,1973.9 728.5,1980.6 C733.7,1989.8 736.8,2000.3 740.4,2010.4 C745.7,2025.1 749.4,2040.5 755.2,2055.0 C759.3,2065.3 764.4,2075.2 770.0,2084.8 C775.4,2094.1 781.2,2103.2 788.0,2111.5 C794.2,2119.1 800.8,2127.0 808.8,2132.4 C817.7,2138.4 828.2,2142.9 838.6,2145.8 C852.9,2149.8 868.1,2152.0 883.0,2153.2 C907.7,2155.2 932.7,2155.2 957.6,2155.6 C985.1,2156.1 1012.5,2155.9 1040.0,2156.0 C1069.0,2156.1 1098.0,2156.0 1127.0,2156.0" fill="none" stroke="#00B04F" stroke-width="12.5" stroke-linecap="round" stroke-linejoin="round"/>
<path d="M272.0,2366.7 C287.8,2365.1 303.8,2364.2 319.5,2361.9 C339.4,2359.0 359.2,2354.7 379.0,2350.9 C393.9,2348.1 409.0,2345.8 423.7,2342.0 C433.9,2339.4 443.9,2335.8 453.5,2331.5 C463.8,2326.9 473.2,2320.4 483.2,2315.2 C493.0,2310.0 502.7,2304.3 513.0,2300.3 C522.5,2296.6 532.7,2294.5 542.7,2292.3 C552.5,2290.2 562.8,2290.1 572.5,2287.5 C580.7,2285.3 589.4,2282.7 596.3,2278.0 C604.2,2272.6 610.7,2264.5 617.0,2257.0 C625.6,2246.7 633.2,2235.4 641.0,2224.4 C647.2,2215.6 652.3,2206.1 658.8,2197.6 C662.9,2192.3 667.6,2186.9 673.0,2183.0 C676.9,2180.1 682.3,2176.9 686.8,2177.3 C692.4,2177.8 699.2,2181.5 703.4,2185.7 C709.7,2192.0 714.1,2200.8 718.3,2209.0 C722.3,2216.9 724.6,2225.8 728.0,2234.0 C732.9,2245.8 738.1,2257.4 743.3,2269.0 C749.1,2282.0 754.1,2295.5 761.2,2307.7 C768.0,2319.3 775.6,2331.1 785.0,2340.5 C793.4,2348.9 803.9,2356.4 814.8,2361.3 C826.8,2366.8 840.3,2370.1 853.5,2371.7 C878.0,2374.6 903.1,2374.2 927.9,2374.7 C961.9,2375.3 996.0,2375.1 1030.0,2375.0 C1062.3,2374.9 1094.7,2374.3 1127.0,2374.0" fill="none" stroke="#FF0000" stroke-width="12.5" stroke-linecap="round" stroke-linejoin="round"/>
<path d="M272.0,2586.8 C287.8,2585.6 303.8,2585.3 319.5,2583.3 C339.4,2580.8 359.2,2576.8 379.0,2573.5 C393.9,2571.0 409.0,2569.3 423.7,2566.0 C433.8,2563.8 443.8,2560.6 453.5,2557.0 C463.6,2553.2 473.3,2548.1 483.2,2543.7 C493.1,2539.2 502.8,2534.1 513.0,2530.3 C522.7,2526.7 532.6,2523.6 542.7,2521.4 C552.5,2519.2 562.8,2519.4 572.5,2517.0 C580.7,2515.0 589.3,2512.5 596.3,2508.0 C604.1,2503.0 610.8,2495.7 617.0,2488.6 C625.7,2478.8 633.3,2468.0 641.0,2457.4 C647.3,2448.7 652.4,2439.2 658.8,2430.6 C663.1,2424.7 667.4,2418.4 673.0,2414.0 C676.8,2411.0 682.3,2408.0 686.8,2408.5 C692.5,2409.2 699.1,2413.2 703.4,2417.5 C709.6,2423.7 714.1,2432.1 718.3,2440.0 C722.3,2447.6 724.5,2456.1 728.0,2464.0 C732.8,2474.8 738.1,2485.4 743.3,2496.0 C749.2,2508.0 754.1,2520.6 761.2,2531.8 C768.0,2542.4 775.8,2553.0 785.0,2561.5 C793.6,2569.4 804.0,2576.4 814.8,2580.9 C826.8,2585.9 840.4,2588.4 853.5,2589.8 C878.1,2592.4 903.1,2592.4 927.9,2592.8 C961.9,2593.4 996.0,2593.1 1030.0,2593.0 C1062.3,2592.9 1094.7,2592.3 1127.0,2592.0" fill="none" stroke="#03519B" stroke-width="12.5" stroke-linecap="round" stroke-linejoin="round"/>
<text transform="translate(846.5,2102.0) scale(1,1.028)" font-size="67" text-anchor="start">Free ICG</text>
<text transform="translate(830.0,2339.0) scale(1,1.028)" font-size="67" text-anchor="start">ICG-PLGA</text>
<text transform="translate(843.0,2572.0) scale(1,1.028)" font-size="67" text-anchor="start">INAPs</text>
<text x="18.0" y="1938.0" font-size="74"><tspan font-weight="bold">d</tspan>)</text>
<line x1="1402.0" y1="1933.0" x2="1402.0" y2="1971.0" stroke="#222" stroke-width="5.5" stroke-linecap="butt"/>
<line x1="1401.5" y1="1971.0" x2="1401.5" y2="2722.5" stroke="#000" stroke-width="7.0" stroke-linecap="butt"/>
<line x1="1398.5" y1="2701.5" x2="2190.6" y2="2701.5" stroke="#000" stroke-width="7.0" stroke-linecap="butt"/>
<text transform="translate(1401.5,2800.5) scale(1,1.028)" font-size="67" text-anchor="middle">220</text>
<line x1="1598.0" y1="2701.5" x2="1598.0" y2="2722.5" stroke="#000" stroke-width="7.0" stroke-linecap="butt"/>
<text transform="translate(1598.0,2800.5) scale(1,1.028)" font-size="67" text-anchor="middle">240</text>
<line x1="1794.5" y1="2701.5" x2="1794.5" y2="2722.5" stroke="#000" stroke-width="7.0" stroke-linecap="butt"/>
<text transform="translate(1794.5,2800.5) scale(1,1.028)" font-size="67" text-anchor="middle">260</text>
<line x1="1991.1" y1="2701.5" x2="1991.1" y2="2722.5" stroke="#000" stroke-width="7.0" stroke-linecap="butt"/>
<text transform="translate(1991.1,2800.5) scale(1,1.028)" font-size="67" text-anchor="middle">280</text>
<line x1="2187.6" y1="2701.5" x2="2187.6" y2="2722.5" stroke="#000" stroke-width="7.0" stroke-linecap="butt"/>
<text transform="translate(2187.6,2800.5) scale(1,1.028)" font-size="67" text-anchor="middle">300</text>
<text transform="translate(1343.0,2064.0) scale(1,1.028)" font-size="67" text-anchor="end" fill="#FAFAFA">3.5</text>
<text transform="translate(1343.0,2285.5) scale(1,1.028)" font-size="67" text-anchor="end" fill="#FAFAFA">2.5</text>
<text transform="translate(1343.0,2503.0) scale(1,1.028)" font-size="67" text-anchor="end" fill="#FAFAFA">1.5</text>
<text transform="translate(1343.0,2724.5) scale(1,1.028)" font-size="67" text-anchor="end" fill="#FAFAFA">0.5</text>
<text transform="translate(1795.5,2899.5) scale(1,1.028)" font-size="67" text-anchor="middle">Wavelength (nm)</text>
<text transform="translate(1272,2325) rotate(-90) scale(1,1.028)" font-size="67" text-anchor="middle">Absorbance</text>
<path d="M1400.4,2151.5 C1416.8,2151.2 1433.1,2150.7 1449.5,2150.7 C1469.3,2150.7 1489.2,2151.6 1509.0,2151.5 C1528.9,2151.3 1548.8,2150.7 1568.6,2149.8 C1576.6,2149.4 1584.9,2146.6 1592.4,2147.7 C1596.8,2148.3 1601.6,2151.4 1604.3,2155.0 C1609.5,2161.9 1612.6,2170.9 1616.2,2179.0 C1619.5,2186.3 1621.3,2194.3 1625.0,2201.3 C1627.3,2205.6 1630.3,2209.9 1634.0,2213.0 C1636.8,2215.4 1641.8,2218.7 1644.5,2217.6 C1647.8,2216.3 1650.8,2210.2 1652.0,2205.7 C1655.7,2192.3 1657.4,2178.0 1659.3,2164.0 C1662.3,2142.3 1664.5,2120.4 1666.8,2098.6 C1669.4,2073.8 1671.6,2048.9 1674.2,2024.0 C1676.1,2006.2 1676.7,1987.9 1680.2,1970.6 C1681.2,1965.7 1684.6,1958.0 1687.6,1957.2 C1690.0,1956.5 1693.9,1962.8 1696.5,1966.0 C1699.9,1970.2 1701.8,1975.8 1705.5,1979.5 C1708.7,1982.8 1713.9,1983.9 1717.4,1987.0 C1723.8,1992.8 1729.3,1999.8 1735.2,2006.3 C1744.2,2016.2 1752.9,2026.2 1762.0,2036.0 C1771.2,2045.9 1779.9,2056.4 1790.0,2065.2 C1798.5,2072.6 1808.1,2079.0 1817.9,2084.7 C1831.4,2092.5 1845.1,2100.8 1859.8,2105.6 C1877.7,2111.5 1896.9,2113.5 1915.6,2116.8 C1938.8,2120.9 1962.1,2124.4 1985.4,2128.0 C2013.3,2132.3 2041.2,2136.7 2069.2,2140.5 C2092.4,2143.7 2115.7,2147.0 2139.0,2149.0 C2157.1,2150.6 2175.3,2150.5 2193.4,2151.2" fill="none" stroke="#CCCC00" stroke-width="12.5" stroke-linecap="butt" stroke-linejoin="round"/>
<path d="M1400.4,2371.7 C1416.8,2371.4 1433.1,2371.0 1449.5,2370.8 C1469.3,2370.5 1489.2,2370.3 1509.0,2370.2 C1522.9,2370.1 1537.0,2368.9 1550.7,2370.2 C1556.9,2370.8 1562.5,2374.8 1568.6,2375.8 C1576.4,2377.0 1584.9,2378.1 1592.4,2376.7 C1596.8,2375.9 1600.0,2371.0 1604.3,2369.3 C1608.9,2367.5 1614.4,2365.6 1619.2,2366.3 C1625.3,2367.1 1631.0,2371.6 1637.0,2373.8 C1641.9,2375.6 1647.1,2378.5 1651.9,2378.2 C1656.0,2378.0 1660.8,2375.3 1663.8,2372.3 C1668.7,2367.4 1671.1,2359.8 1675.7,2354.4 C1679.5,2349.9 1684.3,2343.7 1689.1,2342.5 C1692.3,2341.7 1695.8,2347.1 1699.5,2348.5 C1705.2,2350.6 1711.3,2352.0 1717.4,2352.9 C1737.1,2355.9 1757.0,2358.4 1776.9,2360.4 C1796.7,2362.4 1816.6,2363.5 1836.4,2364.8 C1854.3,2366.0 1872.1,2367.1 1890.0,2367.8 C1910.0,2368.6 1930.0,2369.1 1950.0,2369.5 C1983.3,2370.1 2016.7,2370.6 2050.0,2370.8 C2097.8,2371.2 2145.6,2371.1 2193.4,2371.3" fill="none" stroke="#FE7E26" stroke-width="12.5" stroke-linecap="butt" stroke-linejoin="round"/>
<path d="M1400.4,2595.8 C1402.9,2592.8 1404.9,2588.4 1407.9,2586.9 C1409.9,2585.9 1413.5,2589.6 1415.3,2588.4 C1419.4,2585.7 1421.6,2578.5 1425.7,2575.0 C1428.0,2573.1 1432.2,2571.1 1434.6,2572.0 C1437.6,2573.1 1439.9,2577.8 1442.0,2581.0 C1443.4,2583.2 1443.5,2588.2 1445.0,2588.4 C1446.5,2588.6 1449.0,2581.6 1451.0,2582.4 C1455.5,2584.1 1459.2,2595.1 1464.4,2595.8 C1470.6,2596.6 1478.1,2588.3 1485.2,2586.9 C1489.0,2586.1 1493.1,2588.9 1497.1,2589.3 C1503.0,2589.9 1509.2,2589.0 1515.0,2589.9 C1517.2,2590.2 1519.7,2593.9 1521.0,2592.9 C1523.6,2590.9 1524.6,2581.9 1526.9,2581.0 C1528.6,2580.4 1531.9,2585.4 1532.9,2588.4 C1536.9,2600.3 1538.1,2613.8 1541.8,2625.6 C1542.1,2626.6 1544.3,2627.8 1544.8,2627.0 C1547.8,2621.4 1549.0,2611.1 1552.2,2606.3 C1553.0,2605.1 1555.9,2607.6 1556.7,2609.2 C1561.4,2619.0 1564.3,2637.7 1568.6,2640.5 C1571.2,2642.2 1574.7,2628.7 1577.5,2622.6 C1580.2,2616.8 1583.4,2611.0 1585.0,2604.8 C1588.4,2591.2 1590.4,2577.1 1592.4,2563.1 C1594.9,2545.3 1595.9,2527.3 1598.3,2509.5 C1599.7,2499.5 1601.0,2483.9 1603.7,2479.8 C1604.9,2478.0 1608.6,2487.5 1610.2,2491.7 C1613.2,2499.4 1614.4,2507.9 1617.7,2515.5 C1620.4,2521.8 1623.8,2528.3 1628.1,2533.3 C1630.2,2535.7 1634.2,2536.0 1637.0,2537.8 C1642.1,2541.0 1646.8,2545.0 1651.9,2548.2 C1657.7,2551.9 1663.4,2556.3 1669.8,2558.6 C1680.2,2562.3 1691.5,2563.9 1702.5,2566.0 C1707.4,2566.9 1712.5,2566.6 1717.4,2567.6 C1727.4,2569.6 1737.1,2573.3 1747.1,2575.0 C1752.0,2575.8 1757.2,2574.0 1762.0,2575.0 C1767.2,2576.0 1771.8,2579.6 1776.9,2581.0 C1784.7,2583.1 1792.9,2583.5 1800.7,2585.4 C1806.8,2586.9 1812.5,2590.3 1818.6,2591.4 C1826.4,2592.8 1834.6,2591.5 1842.4,2592.9 C1848.5,2594.0 1854.1,2598.0 1860.2,2598.8 C1869.9,2600.0 1880.1,2598.8 1890.0,2598.8 C1903.3,2598.8 1916.7,2599.3 1930.0,2599.0 C1945.0,2598.7 1960.0,2597.6 1975.0,2597.0 C1986.7,2596.6 1998.3,2595.8 2010.0,2596.0 C2023.3,2596.3 2036.7,2598.2 2050.0,2598.5 C2063.3,2598.7 2076.7,2597.4 2090.0,2597.5 C2100.0,2597.6 2110.0,2599.2 2120.0,2599.0 C2130.0,2598.8 2140.0,2596.7 2150.0,2596.5 C2164.4,2596.2 2178.9,2597.2 2193.4,2597.5" fill="none" stroke="#03519B" stroke-width="12.5" stroke-linecap="butt" stroke-linejoin="round"/>
<text transform="translate(1860.0,2065.7) scale(1,1.028)" font-size="67" text-anchor="start">Free-NextA</text>
<text transform="translate(1930.5,2247.2) scale(1,1.028)" font-size="67" text-anchor="start">NextA-</text>
<text transform="translate(1931.0,2347.5) scale(1,1.028)" font-size="67" text-anchor="start">PLGA</text>
<text transform="translate(1924.0,2583.6) scale(1,1.028)" font-size="67" text-anchor="start">INAPs</text>
<text x="1205.5" y="1929.0" font-size="74"><tspan font-weight="bold">e</tspan>)</text>
</svg>
</body></html>
